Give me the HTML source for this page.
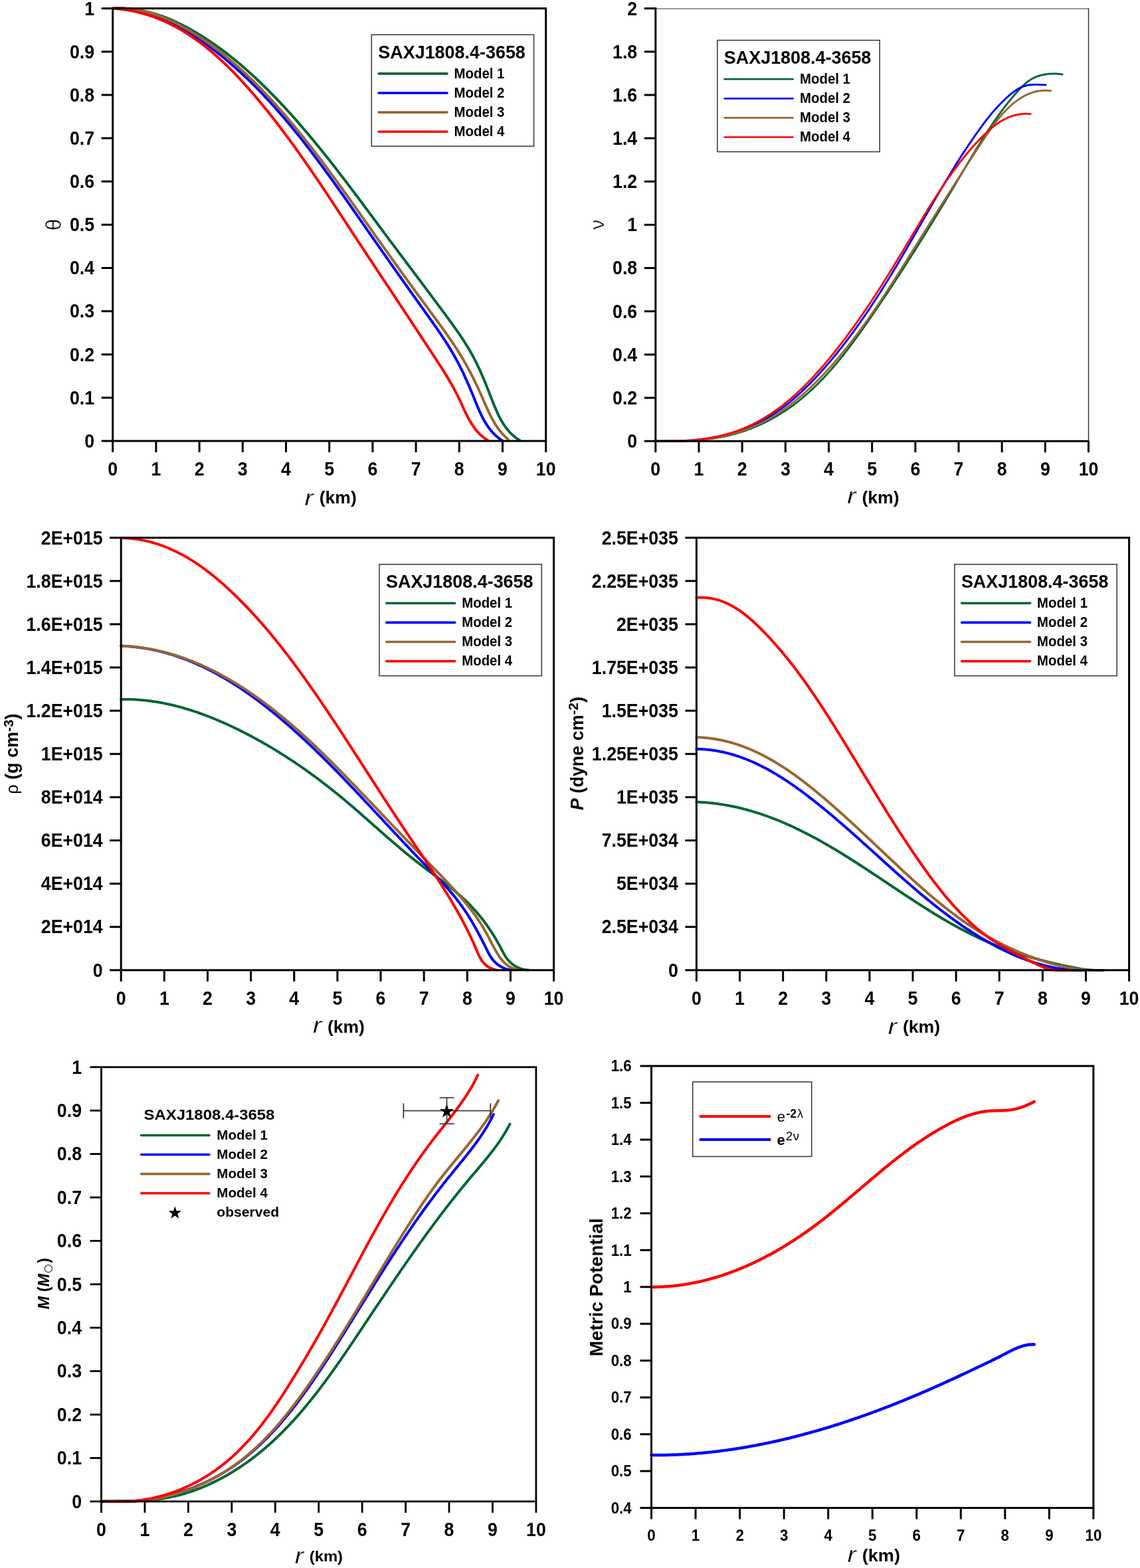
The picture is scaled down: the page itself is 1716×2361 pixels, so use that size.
<!DOCTYPE html><html><head><meta charset="utf-8"><title>SAXJ1808.4-3658 models</title><style>html,body{margin:0;padding:0;background:#fff;overflow:hidden}svg{display:block}</style></head><body>
<svg xmlns="http://www.w3.org/2000/svg" width="1716" height="2361" viewBox="0 0 1716 2361" font-family="Liberation Sans, Arial, Helvetica, sans-serif">
<rect width="1716" height="2361" fill="#fff"/>
<path d="M169.7,12.7 L173.4,12.6 L177.2,12.5 L180.9,12.5 L184.5,12.6 L188.2,12.7 L191.8,13.0 L195.5,13.3 L199.1,13.7 L202.6,14.1 L206.2,14.6 L209.7,15.2 L213.2,15.9 L216.7,16.6 L220.2,17.4 L223.7,18.2 L227.1,19.1 L230.5,20.1 L233.9,21.1 L237.3,22.1 L240.7,23.3 L244.0,24.4 L247.3,25.6 L250.7,26.9 L253.9,28.2 L257.2,29.6 L260.5,31.0 L263.7,32.5 L266.9,34.0 L270.1,35.5 L273.3,37.1 L276.5,38.7 L279.6,40.3 L282.8,42.0 L285.9,43.7 L289.0,45.5 L292.1,47.2 L295.1,49.0 L298.2,50.9 L301.2,52.7 L304.2,54.6 L307.2,56.5 L310.2,58.4 L313.2,60.4 L316.2,62.3 L319.1,64.3 L322.0,66.4 L324.9,68.4 L327.8,70.5 L330.7,72.6 L333.6,74.7 L336.4,76.8 L339.3,78.9 L342.1,81.1 L344.9,83.3 L347.7,85.5 L350.5,87.7 L353.3,90.0 L356.0,92.2 L358.8,94.5 L361.5,96.8 L364.2,99.1 L366.9,101.5 L369.6,103.8 L372.3,106.2 L374.9,108.6 L377.6,111.0 L380.2,113.4 L382.9,115.8 L385.5,118.3 L388.1,120.7 L390.7,123.2 L393.3,125.7 L395.8,128.2 L398.4,130.7 L401.0,133.2 L403.5,135.7 L406.0,138.3 L408.5,140.8 L411.0,143.4 L413.5,145.9 L416.0,148.5 L418.5,151.1 L421.0,153.7 L423.4,156.3 L425.9,158.9 L428.3,161.6 L430.7,164.2 L433.1,166.9 L435.6,169.5 L438.0,172.2 L440.3,174.8 L442.7,177.5 L445.1,180.2 L447.5,182.9 L449.8,185.6 L452.2,188.3 L454.5,191.0 L456.8,193.7 L459.2,196.5 L461.5,199.2 L463.8,201.9 L466.1,204.7 L468.4,207.4 L470.7,210.2 L473.0,212.9 L475.2,215.7 L477.5,218.5 L479.8,221.2 L482.0,224.0 L484.3,226.8 L486.5,229.6 L488.8,232.4 L491.0,235.2 L493.2,238.0 L495.4,240.8 L497.7,243.6 L499.9,246.4 L502.1,249.3 L504.3,252.1 L506.5,254.9 L508.6,257.7 L510.8,260.6 L513.0,263.4 L515.2,266.2 L517.4,269.1 L519.5,271.9 L521.7,274.8 L523.9,277.6 L526.0,280.5 L528.2,283.3 L530.3,286.2 L532.5,289.0 L534.6,291.9 L536.8,294.7 L538.9,297.6 L541.0,300.4 L543.2,303.3 L545.3,306.1 L547.4,309.0 L549.5,311.9 L551.7,314.7 L553.8,317.6 L555.9,320.4 L558.0,323.3 L560.2,326.1 L562.3,329.0 L564.4,331.8 L566.5,334.7 L568.6,337.5 L570.7,340.4 L572.8,343.2 L575.0,346.1 L577.1,348.9 L579.2,351.8 L581.3,354.6 L583.4,357.4 L585.5,360.3 L587.6,363.1 L589.7,365.9 L591.9,368.7 L594.0,371.6 L596.1,374.4 L598.2,377.2 L600.3,380.1 L602.4,382.9 L604.6,385.7 L606.7,388.5 L608.8,391.4 L610.9,394.2 L613.0,397.0 L615.1,399.8 L617.3,402.7 L619.4,405.5 L621.5,408.3 L623.6,411.2 L625.8,414.0 L627.9,416.8 L630.0,419.7 L632.2,422.5 L634.3,425.4 L636.4,428.2 L638.6,431.1 L640.7,433.9 L642.8,436.8 L645.0,439.7 L647.1,442.5 L649.3,445.4 L651.4,448.3 L653.6,451.2 L655.7,454.1 L657.9,457.0 L660.0,459.9 L662.2,462.8 L664.4,465.7 L666.5,468.6 L668.7,471.5 L670.9,474.4 L673.0,477.4 L675.2,480.3 L677.3,483.3 L679.5,486.2 L681.6,489.2 L683.7,492.2 L685.8,495.1 L687.9,498.1 L690.0,501.1 L692.1,504.1 L694.1,507.1 L696.1,510.2 L698.1,513.2 L700.0,516.2 L701.9,519.3 L703.8,522.4 L705.7,525.4 L707.5,528.5 L709.2,531.6 L711.0,534.7 L712.7,537.8 L714.3,540.9 L715.9,544.1 L717.5,547.2 L719.0,550.4 L720.5,553.5 L722.0,556.7 L723.4,559.9 L724.8,563.1 L726.2,566.3 L727.6,569.5 L729.0,572.7 L730.3,576.0 L731.6,579.2 L732.9,582.5 L734.2,585.8 L735.5,589.1 L736.8,592.4 L738.1,595.7 L739.4,599.0 L740.7,602.3 L742.0,605.7 L743.3,609.0 L744.7,612.3 L746.1,615.6 L747.5,618.9 L749.0,622.1 L750.5,625.4 L752.1,628.5 L753.8,631.7 L755.5,634.7 L757.4,637.8 L759.3,640.7 L761.3,643.6 L763.5,646.3 L765.7,649.0 L768.1,651.6 L770.6,654.1 L773.3,656.5 L776.1,658.8 L779.1,661.0 L782.2,663.0" fill="none" stroke="#006633" stroke-width="4" stroke-linecap="round" stroke-linejoin="round"/>
<path d="M169.7,12.7 L173.3,12.5 L176.9,12.5 L180.5,12.5 L184.1,12.6 L187.6,12.8 L191.1,13.1 L194.6,13.5 L198.1,13.9 L201.6,14.5 L205.0,15.1 L208.4,15.8 L211.8,16.5 L215.2,17.4 L218.6,18.3 L221.9,19.2 L225.2,20.3 L228.5,21.4 L231.8,22.5 L235.1,23.8 L238.3,25.0 L241.6,26.4 L244.8,27.7 L248.0,29.2 L251.1,30.6 L254.3,32.2 L257.4,33.7 L260.6,35.3 L263.7,37.0 L266.7,38.7 L269.8,40.4 L272.9,42.1 L275.9,43.9 L278.9,45.7 L281.9,47.6 L284.9,49.4 L287.9,51.3 L290.8,53.2 L293.7,55.1 L296.7,57.0 L299.6,59.0 L302.4,61.0 L305.3,63.0 L308.2,65.0 L311.0,67.0 L313.8,69.1 L316.6,71.2 L319.4,73.3 L322.2,75.4 L325.0,77.5 L327.7,79.7 L330.5,81.8 L333.2,84.0 L335.9,86.2 L338.6,88.4 L341.3,90.7 L343.9,92.9 L346.6,95.2 L349.2,97.5 L351.8,99.8 L354.4,102.1 L357.0,104.4 L359.6,106.7 L362.2,109.1 L364.8,111.5 L367.3,113.8 L369.8,116.2 L372.4,118.6 L374.9,121.1 L377.4,123.5 L379.9,126.0 L382.3,128.4 L384.8,130.9 L387.2,133.4 L389.7,135.9 L392.1,138.4 L394.5,140.9 L396.9,143.5 L399.3,146.0 L401.7,148.6 L404.1,151.1 L406.5,153.7 L408.8,156.3 L411.2,158.9 L413.5,161.5 L415.8,164.1 L418.1,166.7 L420.4,169.3 L422.7,172.0 L425.0,174.6 L427.3,177.3 L429.6,180.0 L431.8,182.6 L434.1,185.3 L436.3,188.0 L438.6,190.7 L440.8,193.4 L443.0,196.1 L445.2,198.9 L447.4,201.6 L449.6,204.3 L451.8,207.1 L454.0,209.8 L456.2,212.6 L458.3,215.3 L460.5,218.1 L462.6,220.9 L464.8,223.6 L466.9,226.4 L469.0,229.2 L471.2,232.0 L473.3,234.8 L475.4,237.6 L477.5,240.4 L479.6,243.2 L481.7,246.1 L483.8,248.9 L485.9,251.7 L488.0,254.5 L490.0,257.4 L492.1,260.2 L494.2,263.0 L496.2,265.9 L498.3,268.7 L500.3,271.6 L502.4,274.4 L504.4,277.3 L506.5,280.1 L508.5,283.0 L510.5,285.8 L512.5,288.7 L514.6,291.5 L516.6,294.4 L518.6,297.2 L520.6,300.1 L522.6,303.0 L524.6,305.8 L526.6,308.7 L528.6,311.6 L530.6,314.4 L532.6,317.3 L534.6,320.1 L536.6,323.0 L538.6,325.9 L540.6,328.7 L542.6,331.6 L544.6,334.4 L546.6,337.3 L548.6,340.2 L550.6,343.0 L552.5,345.9 L554.5,348.7 L556.5,351.5 L558.5,354.4 L560.5,357.2 L562.4,360.1 L564.4,362.9 L566.4,365.7 L568.4,368.6 L570.4,371.4 L572.4,374.2 L574.3,377.1 L576.3,379.9 L578.3,382.7 L580.3,385.5 L582.3,388.4 L584.3,391.2 L586.2,394.0 L588.2,396.9 L590.2,399.7 L592.2,402.5 L594.2,405.3 L596.2,408.2 L598.2,411.0 L600.2,413.8 L602.2,416.7 L604.2,419.5 L606.2,422.3 L608.2,425.2 L610.2,428.0 L612.3,430.8 L614.3,433.7 L616.3,436.5 L618.3,439.4 L620.3,442.2 L622.4,445.1 L624.4,447.9 L626.4,450.8 L628.5,453.7 L630.5,456.5 L632.6,459.4 L634.6,462.3 L636.7,465.2 L638.8,468.1 L640.8,470.9 L642.9,473.8 L645.0,476.7 L647.0,479.6 L649.1,482.5 L651.2,485.5 L653.2,488.4 L655.3,491.3 L657.3,494.2 L659.3,497.2 L661.4,500.1 L663.4,503.1 L665.3,506.0 L667.3,509.0 L669.3,512.0 L671.2,514.9 L673.1,517.9 L675.0,520.9 L676.8,523.9 L678.6,526.9 L680.4,529.9 L682.2,533.0 L683.9,536.0 L685.6,539.0 L687.3,542.1 L688.9,545.1 L690.5,548.2 L692.1,551.3 L693.6,554.3 L695.2,557.4 L696.7,560.5 L698.1,563.6 L699.6,566.8 L701.0,569.9 L702.4,573.0 L703.8,576.2 L705.2,579.3 L706.6,582.5 L707.9,585.7 L709.2,588.8 L710.6,592.0 L711.9,595.2 L713.2,598.4 L714.5,601.6 L715.8,604.9 L717.1,608.1 L718.4,611.3 L719.8,614.5 L721.2,617.7 L722.6,620.9 L724.0,624.0 L725.6,627.1 L727.1,630.2 L728.8,633.2 L730.5,636.1 L732.3,639.1 L734.2,641.9 L736.2,644.7 L738.3,647.4 L740.6,650.1 L742.9,652.6 L745.4,655.1 L748.0,657.5 L750.8,659.8 L753.7,661.9 L756.8,664.0" fill="none" stroke="#0000ff" stroke-width="4" stroke-linecap="round" stroke-linejoin="round"/>
<path d="M169.7,12.7 L173.4,12.5 L177.0,12.5 L180.6,12.5 L184.3,12.6 L187.8,12.8 L191.4,13.0 L194.9,13.3 L198.5,13.8 L202.0,14.2 L205.5,14.8 L208.9,15.4 L212.4,16.1 L215.8,16.8 L219.2,17.7 L222.6,18.5 L225.9,19.5 L229.3,20.5 L232.6,21.6 L235.9,22.7 L239.2,23.8 L242.4,25.1 L245.7,26.3 L248.9,27.7 L252.1,29.0 L255.3,30.5 L258.5,31.9 L261.6,33.4 L264.8,35.0 L267.9,36.6 L271.0,38.2 L274.1,39.9 L277.1,41.6 L280.2,43.3 L283.2,45.0 L286.2,46.8 L289.2,48.7 L292.2,50.5 L295.2,52.4 L298.1,54.3 L301.0,56.2 L304.0,58.1 L306.9,60.1 L309.7,62.1 L312.6,64.1 L315.5,66.1 L318.3,68.2 L321.1,70.2 L323.9,72.3 L326.7,74.4 L329.5,76.6 L332.3,78.7 L335.0,80.9 L337.7,83.1 L340.4,85.3 L343.2,87.5 L345.8,89.8 L348.5,92.1 L351.2,94.4 L353.8,96.7 L356.5,99.0 L359.1,101.3 L361.7,103.7 L364.3,106.0 L366.9,108.4 L369.5,110.8 L372.0,113.2 L374.6,115.6 L377.1,118.1 L379.6,120.5 L382.1,123.0 L384.6,125.5 L387.1,128.0 L389.6,130.5 L392.0,133.0 L394.5,135.5 L396.9,138.1 L399.4,140.6 L401.8,143.2 L404.2,145.7 L406.6,148.3 L409.0,150.9 L411.4,153.5 L413.7,156.1 L416.1,158.7 L418.4,161.4 L420.8,164.0 L423.1,166.6 L425.4,169.3 L427.7,171.9 L430.0,174.6 L432.3,177.3 L434.6,180.0 L436.9,182.7 L439.1,185.3 L441.4,188.0 L443.6,190.8 L445.9,193.5 L448.1,196.2 L450.3,198.9 L452.5,201.7 L454.7,204.4 L457.0,207.1 L459.1,209.9 L461.3,212.7 L463.5,215.4 L465.7,218.2 L467.9,221.0 L470.0,223.7 L472.2,226.5 L474.3,229.3 L476.5,232.1 L478.6,234.9 L480.7,237.7 L482.8,240.5 L485.0,243.3 L487.1,246.1 L489.2,249.0 L491.3,251.8 L493.4,254.6 L495.5,257.4 L497.6,260.3 L499.6,263.1 L501.7,265.9 L503.8,268.8 L505.9,271.6 L507.9,274.4 L510.0,277.3 L512.0,280.1 L514.1,283.0 L516.2,285.8 L518.2,288.7 L520.2,291.5 L522.3,294.4 L524.3,297.2 L526.4,300.1 L528.4,302.9 L530.4,305.8 L532.5,308.7 L534.5,311.5 L536.5,314.4 L538.5,317.2 L540.6,320.1 L542.6,322.9 L544.6,325.8 L546.6,328.6 L548.6,331.5 L550.6,334.3 L552.7,337.2 L554.7,340.0 L556.7,342.9 L558.7,345.7 L560.7,348.6 L562.7,351.4 L564.7,354.3 L566.7,357.1 L568.7,359.9 L570.8,362.8 L572.8,365.6 L574.8,368.4 L576.8,371.3 L578.8,374.1 L580.8,376.9 L582.8,379.7 L584.9,382.6 L586.9,385.4 L588.9,388.2 L590.9,391.0 L593.0,393.9 L595.0,396.7 L597.0,399.5 L599.0,402.3 L601.1,405.2 L603.1,408.0 L605.1,410.8 L607.2,413.6 L609.2,416.5 L611.3,419.3 L613.3,422.1 L615.4,425.0 L617.4,427.8 L619.5,430.6 L621.5,433.5 L623.6,436.3 L625.7,439.1 L627.7,442.0 L629.8,444.8 L631.9,447.7 L634.0,450.5 L636.1,453.4 L638.2,456.2 L640.3,459.1 L642.4,461.9 L644.5,464.8 L646.6,467.7 L648.7,470.6 L650.8,473.4 L652.9,476.3 L655.0,479.2 L657.2,482.1 L659.3,485.0 L661.4,487.9 L663.5,490.8 L665.6,493.7 L667.7,496.6 L669.8,499.5 L671.8,502.4 L673.9,505.3 L675.9,508.3 L678.0,511.2 L680.0,514.1 L682.0,517.1 L683.9,520.0 L685.9,523.0 L687.8,526.0 L689.7,528.9 L691.5,531.9 L693.4,534.9 L695.2,537.9 L697.0,540.9 L698.7,543.9 L700.4,546.9 L702.1,549.9 L703.8,552.9 L705.4,556.0 L707.1,559.0 L708.7,562.1 L710.2,565.1 L711.8,568.2 L713.3,571.3 L714.8,574.4 L716.3,577.5 L717.8,580.6 L719.3,583.7 L720.7,586.8 L722.2,590.0 L723.6,593.1 L725.0,596.3 L726.4,599.5 L727.8,602.7 L729.2,605.9 L730.6,609.1 L732.0,612.3 L733.4,615.5 L734.8,618.6 L736.3,621.8 L737.9,624.9 L739.4,628.0 L741.1,631.1 L742.8,634.1 L744.5,637.1 L746.4,640.1 L748.3,643.0 L750.3,645.8 L752.4,648.6 L754.7,651.3 L757.0,654.0 L759.5,656.6 L762.1,659.1 L764.8,661.5" fill="none" stroke="#996633" stroke-width="4" stroke-linecap="round" stroke-linejoin="round"/>
<path d="M169.7,12.7 L173.3,12.9 L176.8,13.2 L180.3,13.6 L183.9,14.0 L187.3,14.5 L190.8,15.0 L194.2,15.6 L197.6,16.2 L201.0,16.9 L204.4,17.6 L207.7,18.4 L211.0,19.2 L214.3,20.1 L217.6,21.0 L220.9,22.0 L224.1,23.0 L227.3,24.1 L230.5,25.2 L233.7,26.3 L236.8,27.6 L239.9,28.8 L243.0,30.1 L246.1,31.4 L249.2,32.8 L252.2,34.2 L255.3,35.7 L258.3,37.2 L261.2,38.7 L264.2,40.3 L267.2,41.9 L270.1,43.6 L273.0,45.3 L275.9,47.0 L278.8,48.8 L281.6,50.6 L284.4,52.4 L287.3,54.2 L290.1,56.1 L292.8,58.1 L295.6,60.0 L298.4,62.0 L301.1,64.0 L303.8,66.1 L306.5,68.2 L309.2,70.3 L311.8,72.4 L314.5,74.6 L317.1,76.8 L319.7,79.0 L322.3,81.2 L324.9,83.5 L327.5,85.7 L330.0,88.1 L332.6,90.4 L335.1,92.7 L337.6,95.1 L340.1,97.5 L342.6,99.9 L345.0,102.3 L347.5,104.8 L349.9,107.2 L352.3,109.7 L354.7,112.2 L357.1,114.7 L359.5,117.2 L361.9,119.8 L364.2,122.3 L366.6,124.9 L368.9,127.5 L371.2,130.1 L373.5,132.7 L375.8,135.3 L378.1,137.9 L380.4,140.5 L382.6,143.1 L384.9,145.8 L387.1,148.4 L389.3,151.1 L391.5,153.7 L393.7,156.4 L395.9,159.1 L398.1,161.7 L400.3,164.4 L402.5,167.1 L404.6,169.8 L406.7,172.5 L408.9,175.2 L411.0,177.9 L413.1,180.6 L415.2,183.3 L417.3,186.0 L419.4,188.7 L421.5,191.5 L423.5,194.2 L425.6,196.9 L427.7,199.7 L429.7,202.4 L431.7,205.1 L433.8,207.9 L435.8,210.6 L437.8,213.4 L439.8,216.2 L441.8,218.9 L443.8,221.7 L445.8,224.5 L447.8,227.2 L449.8,230.0 L451.7,232.8 L453.7,235.6 L455.7,238.4 L457.6,241.2 L459.6,244.0 L461.5,246.8 L463.5,249.6 L465.4,252.4 L467.3,255.2 L469.3,258.0 L471.2,260.8 L473.1,263.6 L475.0,266.4 L476.9,269.2 L478.8,272.0 L480.7,274.9 L482.6,277.7 L484.5,280.5 L486.4,283.4 L488.3,286.2 L490.2,289.0 L492.1,291.8 L494.0,294.7 L495.8,297.5 L497.7,300.4 L499.6,303.2 L501.5,306.0 L503.3,308.9 L505.2,311.7 L507.1,314.6 L509.0,317.4 L510.8,320.3 L512.7,323.1 L514.6,326.0 L516.4,328.8 L518.3,331.7 L520.2,334.5 L522.1,337.4 L523.9,340.2 L525.8,343.1 L527.7,346.0 L529.6,348.8 L531.4,351.7 L533.3,354.5 L535.2,357.4 L537.1,360.2 L538.9,363.1 L540.8,365.9 L542.7,368.8 L544.6,371.7 L546.5,374.5 L548.4,377.4 L550.2,380.2 L552.1,383.1 L554.0,386.0 L555.9,388.8 L557.8,391.7 L559.7,394.5 L561.6,397.4 L563.5,400.3 L565.4,403.1 L567.2,406.0 L569.1,408.8 L571.0,411.7 L572.9,414.6 L574.8,417.4 L576.7,420.3 L578.6,423.1 L580.5,426.0 L582.4,428.9 L584.3,431.7 L586.2,434.6 L588.1,437.4 L590.0,440.3 L591.9,443.2 L593.8,446.0 L595.6,448.9 L597.5,451.8 L599.4,454.6 L601.3,457.5 L603.2,460.3 L605.1,463.2 L607.0,466.1 L608.9,468.9 L610.8,471.8 L612.7,474.6 L614.6,477.5 L616.5,480.4 L618.4,483.2 L620.2,486.1 L622.1,489.0 L624.0,491.8 L625.9,494.7 L627.8,497.5 L629.7,500.4 L631.6,503.3 L633.4,506.1 L635.3,509.0 L637.2,511.8 L639.1,514.7 L641.0,517.6 L642.9,520.4 L644.7,523.3 L646.6,526.1 L648.5,529.0 L650.4,531.8 L652.2,534.7 L654.1,537.6 L656.0,540.4 L657.8,543.3 L659.7,546.1 L661.5,549.0 L663.4,551.9 L665.2,554.8 L667.0,557.6 L668.8,560.5 L670.6,563.4 L672.4,566.4 L674.2,569.3 L675.9,572.2 L677.6,575.2 L679.3,578.1 L681.0,581.1 L682.7,584.1 L684.3,587.1 L685.9,590.1 L687.5,593.2 L689.0,596.2 L690.5,599.3 L692.0,602.4 L693.5,605.5 L694.9,608.6 L696.3,611.8 L697.8,614.9 L699.2,618.0 L700.7,621.1 L702.2,624.2 L703.8,627.2 L705.3,630.2 L707.0,633.2 L708.7,636.1 L710.5,638.9 L712.3,641.7 L714.3,644.5 L716.3,647.1 L718.5,649.7 L720.7,652.1 L723.1,654.5 L725.6,656.8 L728.3,659.0 L731.1,661.1 L734.1,663.0" fill="none" stroke="#ff0000" stroke-width="4" stroke-linecap="round" stroke-linejoin="round"/>
<rect x="169.7" y="12.7" width="652.00" height="651.30" fill="none" stroke="#000" stroke-width="3"/>
<line x1="152.7" y1="664.00" x2="169.7" y2="664.00" stroke="#000" stroke-width="3"/>
<text transform="translate(142.10,673.80) scale(0.915,1)" font-size="29.2" font-weight="bold" text-anchor="end" >0</text>
<line x1="152.7" y1="598.87" x2="169.7" y2="598.87" stroke="#000" stroke-width="3"/>
<text transform="translate(142.10,608.67) scale(0.915,1)" font-size="29.2" font-weight="bold" text-anchor="end" >0.1</text>
<line x1="152.7" y1="533.74" x2="169.7" y2="533.74" stroke="#000" stroke-width="3"/>
<text transform="translate(142.10,543.54) scale(0.915,1)" font-size="29.2" font-weight="bold" text-anchor="end" >0.2</text>
<line x1="152.7" y1="468.61" x2="169.7" y2="468.61" stroke="#000" stroke-width="3"/>
<text transform="translate(142.10,478.41) scale(0.915,1)" font-size="29.2" font-weight="bold" text-anchor="end" >0.3</text>
<line x1="152.7" y1="403.48" x2="169.7" y2="403.48" stroke="#000" stroke-width="3"/>
<text transform="translate(142.10,413.28) scale(0.915,1)" font-size="29.2" font-weight="bold" text-anchor="end" >0.4</text>
<line x1="152.7" y1="338.35" x2="169.7" y2="338.35" stroke="#000" stroke-width="3"/>
<text transform="translate(142.10,348.15) scale(0.915,1)" font-size="29.2" font-weight="bold" text-anchor="end" >0.5</text>
<line x1="152.7" y1="273.22" x2="169.7" y2="273.22" stroke="#000" stroke-width="3"/>
<text transform="translate(142.10,283.02) scale(0.915,1)" font-size="29.2" font-weight="bold" text-anchor="end" >0.6</text>
<line x1="152.7" y1="208.09" x2="169.7" y2="208.09" stroke="#000" stroke-width="3"/>
<text transform="translate(142.10,217.89) scale(0.915,1)" font-size="29.2" font-weight="bold" text-anchor="end" >0.7</text>
<line x1="152.7" y1="142.96" x2="169.7" y2="142.96" stroke="#000" stroke-width="3"/>
<text transform="translate(142.10,152.76) scale(0.915,1)" font-size="29.2" font-weight="bold" text-anchor="end" >0.8</text>
<line x1="152.7" y1="77.83" x2="169.7" y2="77.83" stroke="#000" stroke-width="3"/>
<text transform="translate(142.10,87.63) scale(0.915,1)" font-size="29.2" font-weight="bold" text-anchor="end" >0.9</text>
<line x1="152.7" y1="12.70" x2="169.7" y2="12.70" stroke="#000" stroke-width="3"/>
<text transform="translate(142.10,22.50) scale(0.915,1)" font-size="29.2" font-weight="bold" text-anchor="end" >1</text>
<line x1="169.70" y1="664.0" x2="169.70" y2="681.0" stroke="#000" stroke-width="3"/>
<text transform="translate(169.70,716.00) scale(0.915,1)" font-size="29.2" font-weight="bold" text-anchor="middle" >0</text>
<line x1="234.90" y1="664.0" x2="234.90" y2="681.0" stroke="#000" stroke-width="3"/>
<text transform="translate(234.90,716.00) scale(0.915,1)" font-size="29.2" font-weight="bold" text-anchor="middle" >1</text>
<line x1="300.10" y1="664.0" x2="300.10" y2="681.0" stroke="#000" stroke-width="3"/>
<text transform="translate(300.10,716.00) scale(0.915,1)" font-size="29.2" font-weight="bold" text-anchor="middle" >2</text>
<line x1="365.30" y1="664.0" x2="365.30" y2="681.0" stroke="#000" stroke-width="3"/>
<text transform="translate(365.30,716.00) scale(0.915,1)" font-size="29.2" font-weight="bold" text-anchor="middle" >3</text>
<line x1="430.50" y1="664.0" x2="430.50" y2="681.0" stroke="#000" stroke-width="3"/>
<text transform="translate(430.50,716.00) scale(0.915,1)" font-size="29.2" font-weight="bold" text-anchor="middle" >4</text>
<line x1="495.70" y1="664.0" x2="495.70" y2="681.0" stroke="#000" stroke-width="3"/>
<text transform="translate(495.70,716.00) scale(0.915,1)" font-size="29.2" font-weight="bold" text-anchor="middle" >5</text>
<line x1="560.90" y1="664.0" x2="560.90" y2="681.0" stroke="#000" stroke-width="3"/>
<text transform="translate(560.90,716.00) scale(0.915,1)" font-size="29.2" font-weight="bold" text-anchor="middle" >6</text>
<line x1="626.10" y1="664.0" x2="626.10" y2="681.0" stroke="#000" stroke-width="3"/>
<text transform="translate(626.10,716.00) scale(0.915,1)" font-size="29.2" font-weight="bold" text-anchor="middle" >7</text>
<line x1="691.30" y1="664.0" x2="691.30" y2="681.0" stroke="#000" stroke-width="3"/>
<text transform="translate(691.30,716.00) scale(0.915,1)" font-size="29.2" font-weight="bold" text-anchor="middle" >8</text>
<line x1="756.50" y1="664.0" x2="756.50" y2="681.0" stroke="#000" stroke-width="3"/>
<text transform="translate(756.50,716.00) scale(0.915,1)" font-size="29.2" font-weight="bold" text-anchor="middle" >9</text>
<line x1="821.70" y1="664.0" x2="821.70" y2="681.0" stroke="#000" stroke-width="3"/>
<text transform="translate(821.70,716.00) scale(0.915,1)" font-size="29.2" font-weight="bold" text-anchor="middle" >10</text>
<rect x="559.3" y="52.3" width="244.3" height="167.9" fill="#fff" stroke="#333" stroke-width="1.5"/>
<text transform="translate(569.30,88.00) scale(0.952,1)" font-size="28.3" font-weight="bold" text-anchor="start" >SAXJ1808.4-3658</text>
<line x1="570.0999999999999" y1="110.90" x2="673.0" y2="110.90" stroke="#006633" stroke-width="3.6" stroke-linecap="round"/>
<text transform="translate(683.50,117.50) scale(0.927,1)" font-size="22" font-weight="bold" text-anchor="start" >Model 1</text>
<line x1="570.0999999999999" y1="140.00" x2="673.0" y2="140.00" stroke="#0000ff" stroke-width="3.6" stroke-linecap="round"/>
<text transform="translate(683.50,146.60) scale(0.927,1)" font-size="22" font-weight="bold" text-anchor="start" >Model 2</text>
<line x1="570.0999999999999" y1="169.10" x2="673.0" y2="169.10" stroke="#996633" stroke-width="3.6" stroke-linecap="round"/>
<text transform="translate(683.50,175.70) scale(0.927,1)" font-size="22" font-weight="bold" text-anchor="start" >Model 3</text>
<line x1="570.0999999999999" y1="198.20" x2="673.0" y2="198.20" stroke="#ff0000" stroke-width="3.6" stroke-linecap="round"/>
<text transform="translate(683.50,204.80) scale(0.927,1)" font-size="22" font-weight="bold" text-anchor="start" >Model 4</text>
<text transform="translate(91.50,338.40) rotate(-90) scale(1.0,1.1)" font-size="31" font-weight="normal" text-anchor="middle" stroke="#fff" stroke-width="0.45">θ</text>
<text transform="translate(458.40,760.60) scale(1.2,1)" font-size="33" font-style="italic" font-weight="normal" stroke="#fff" stroke-width="0.3">r</text>
<text transform="translate(480.80,757.60) scale(1.0045,1)" font-size="26.4" font-weight="bold" text-anchor="start" >(km)</text>
<path d="M986.8,664.2 L990.1,664.2 L993.5,664.1 L996.8,664.1 L1000.2,664.0 L1003.6,664.0 L1006.9,664.0 L1010.3,663.9 L1013.7,663.9 L1017.1,663.8 L1020.5,663.8 L1023.9,663.7 L1027.3,663.6 L1030.7,663.5 L1034.1,663.4 L1037.5,663.3 L1040.9,663.1 L1044.3,662.9 L1047.7,662.7 L1051.1,662.5 L1054.4,662.2 L1057.8,661.9 L1061.2,661.6 L1064.6,661.3 L1068.0,660.9 L1071.4,660.5 L1074.7,660.0 L1078.1,659.5 L1081.4,658.9 L1084.8,658.4 L1088.1,657.7 L1091.4,657.0 L1094.8,656.3 L1098.1,655.5 L1101.4,654.7 L1104.7,653.8 L1107.9,652.9 L1111.2,651.9 L1114.5,650.9 L1117.7,649.9 L1120.9,648.8 L1124.1,647.7 L1127.3,646.5 L1130.5,645.3 L1133.7,644.0 L1136.8,642.7 L1139.9,641.4 L1143.1,640.0 L1146.2,638.6 L1149.2,637.1 L1152.3,635.6 L1155.3,634.1 L1158.3,632.5 L1161.3,630.9 L1164.3,629.3 L1167.3,627.6 L1170.2,625.9 L1173.1,624.1 L1176.0,622.4 L1178.8,620.5 L1181.7,618.7 L1184.5,616.8 L1187.2,614.9 L1190.0,613.0 L1192.7,611.0 L1195.4,609.0 L1198.1,607.0 L1200.8,604.9 L1203.4,602.8 L1206.0,600.7 L1208.6,598.5 L1211.1,596.4 L1213.7,594.2 L1216.2,592.0 L1218.7,589.7 L1221.2,587.4 L1223.6,585.1 L1226.1,582.8 L1228.5,580.5 L1230.9,578.1 L1233.3,575.7 L1235.6,573.3 L1238.0,570.9 L1240.3,568.4 L1242.6,565.9 L1244.9,563.5 L1247.2,560.9 L1249.4,558.4 L1251.7,555.9 L1253.9,553.3 L1256.1,550.7 L1258.3,548.1 L1260.5,545.5 L1262.7,542.9 L1264.8,540.3 L1267.0,537.6 L1269.1,535.0 L1271.2,532.3 L1273.3,529.6 L1275.4,526.9 L1277.5,524.2 L1279.5,521.5 L1281.6,518.7 L1283.6,516.0 L1285.7,513.2 L1287.7,510.5 L1289.7,507.7 L1291.7,505.0 L1293.7,502.2 L1295.7,499.4 L1297.7,496.6 L1299.7,493.8 L1301.6,491.0 L1303.6,488.2 L1305.5,485.4 L1307.5,482.6 L1309.4,479.8 L1311.4,477.0 L1313.3,474.2 L1315.2,471.4 L1317.1,468.5 L1319.1,465.7 L1321.0,462.9 L1322.9,460.1 L1324.8,457.3 L1326.7,454.5 L1328.6,451.7 L1330.5,448.8 L1332.4,446.0 L1334.2,443.2 L1336.1,440.4 L1338.0,437.6 L1339.9,434.8 L1341.7,431.9 L1343.6,429.1 L1345.4,426.3 L1347.3,423.5 L1349.1,420.6 L1351.0,417.8 L1352.8,415.0 L1354.7,412.1 L1356.5,409.3 L1358.3,406.5 L1360.2,403.6 L1362.0,400.8 L1363.8,398.0 L1365.6,395.1 L1367.4,392.3 L1369.3,389.5 L1371.1,386.6 L1372.9,383.8 L1374.7,380.9 L1376.5,378.1 L1378.3,375.2 L1380.1,372.4 L1381.9,369.5 L1383.6,366.7 L1385.4,363.8 L1387.2,361.0 L1389.0,358.1 L1390.8,355.3 L1392.6,352.4 L1394.3,349.5 L1396.1,346.7 L1397.9,343.8 L1399.6,340.9 L1401.4,338.1 L1403.2,335.2 L1404.9,332.3 L1406.7,329.4 L1408.4,326.6 L1410.2,323.7 L1412.0,320.8 L1413.7,317.9 L1415.5,315.0 L1417.2,312.1 L1419.0,309.3 L1420.7,306.4 L1422.5,303.5 L1424.2,300.6 L1425.9,297.7 L1427.7,294.8 L1429.4,291.9 L1431.2,289.0 L1432.9,286.0 L1434.6,283.1 L1436.4,280.2 L1438.1,277.3 L1439.8,274.4 L1441.6,271.5 L1443.3,268.5 L1445.0,265.6 L1446.8,262.7 L1448.5,259.7 L1450.2,256.8 L1452.0,253.9 L1453.7,250.9 L1455.5,248.0 L1457.2,245.1 L1458.9,242.1 L1460.7,239.2 L1462.4,236.3 L1464.2,233.4 L1466.0,230.4 L1467.7,227.5 L1469.5,224.6 L1471.3,221.7 L1473.1,218.8 L1474.9,215.9 L1476.7,213.0 L1478.5,210.1 L1480.3,207.3 L1482.2,204.4 L1484.0,201.5 L1485.9,198.7 L1487.7,195.8 L1489.6,193.0 L1491.5,190.2 L1493.4,187.4 L1495.3,184.6 L1497.2,181.8 L1499.2,179.0 L1501.1,176.3 L1503.1,173.5 L1505.1,170.8 L1507.1,168.1 L1509.1,165.4 L1511.1,162.7 L1513.2,160.0 L1515.2,157.4 L1517.3,154.7 L1519.4,152.1 L1521.5,149.5 L1523.7,146.9 L1525.8,144.3 L1528.0,141.8 L1530.2,139.3 L1532.5,136.8 L1534.7,134.3 L1537.0,131.9 L1539.4,129.5 L1541.8,127.3 L1544.3,125.1 L1546.9,123.0 L1549.6,121.1 L1552.4,119.3 L1555.3,117.7 L1558.3,116.2 L1561.5,115.0 L1564.8,113.9 L1568.2,113.0 L1571.7,112.3 L1575.2,111.7 L1578.7,111.3 L1582.2,111.1 L1585.8,111.0 L1589.2,111.0 L1592.6,111.2 L1595.9,111.5 L1599.1,112.0" fill="none" stroke="#006633" stroke-width="2.9" stroke-linecap="round" stroke-linejoin="round"/>
<path d="M986.8,664.2 L990.0,664.2 L993.1,664.2 L996.3,664.2 L999.5,664.2 L1002.7,664.2 L1005.9,664.2 L1009.2,664.2 L1012.4,664.2 L1015.7,664.2 L1018.9,664.1 L1022.2,664.0 L1025.5,663.9 L1028.8,663.7 L1032.1,663.5 L1035.3,663.3 L1038.6,663.1 L1041.9,662.9 L1045.2,662.6 L1048.5,662.3 L1051.8,662.0 L1055.1,661.6 L1058.4,661.2 L1061.7,660.8 L1065.0,660.4 L1068.3,659.9 L1071.6,659.4 L1074.8,658.8 L1078.1,658.2 L1081.3,657.6 L1084.6,657.0 L1087.8,656.3 L1091.0,655.5 L1094.2,654.8 L1097.4,654.0 L1100.5,653.1 L1103.7,652.2 L1106.8,651.3 L1109.9,650.3 L1113.0,649.2 L1116.1,648.2 L1119.1,647.0 L1122.1,645.9 L1125.1,644.7 L1128.1,643.4 L1131.1,642.1 L1134.0,640.7 L1136.9,639.3 L1139.8,637.9 L1142.7,636.4 L1145.5,634.9 L1148.4,633.4 L1151.2,631.8 L1154.0,630.1 L1156.7,628.5 L1159.5,626.8 L1162.2,625.0 L1164.9,623.2 L1167.6,621.4 L1170.3,619.6 L1172.9,617.7 L1175.6,615.8 L1178.2,613.8 L1180.8,611.9 L1183.4,609.9 L1185.9,607.8 L1188.5,605.8 L1191.0,603.7 L1193.5,601.6 L1196.0,599.4 L1198.4,597.3 L1200.9,595.1 L1203.3,592.9 L1205.7,590.7 L1208.1,588.4 L1210.5,586.1 L1212.9,583.8 L1215.2,581.5 L1217.6,579.2 L1219.9,576.9 L1222.2,574.5 L1224.5,572.1 L1226.8,569.7 L1229.0,567.3 L1231.3,564.9 L1233.5,562.5 L1235.7,560.0 L1237.9,557.5 L1240.1,555.1 L1242.3,552.6 L1244.4,550.1 L1246.6,547.6 L1248.7,545.1 L1250.8,542.6 L1252.9,540.1 L1255.0,537.6 L1257.1,535.0 L1259.2,532.5 L1261.2,530.0 L1263.3,527.4 L1265.3,524.9 L1267.3,522.3 L1269.3,519.7 L1271.3,517.2 L1273.3,514.6 L1275.3,512.0 L1277.2,509.4 L1279.2,506.8 L1281.1,504.2 L1283.1,501.6 L1285.0,499.0 L1286.9,496.3 L1288.8,493.7 L1290.7,491.1 L1292.6,488.4 L1294.5,485.8 L1296.3,483.1 L1298.2,480.5 L1300.0,477.8 L1301.9,475.1 L1303.7,472.5 L1305.5,469.8 L1307.3,467.1 L1309.1,464.4 L1310.9,461.7 L1312.7,459.0 L1314.5,456.3 L1316.3,453.6 L1318.0,450.9 L1319.8,448.2 L1321.6,445.4 L1323.3,442.7 L1325.1,440.0 L1326.8,437.2 L1328.5,434.5 L1330.2,431.8 L1332.0,429.0 L1333.7,426.3 L1335.4,423.5 L1337.1,420.7 L1338.8,418.0 L1340.5,415.2 L1342.2,412.4 L1343.9,409.6 L1345.6,406.8 L1347.2,404.1 L1348.9,401.3 L1350.6,398.5 L1352.2,395.7 L1353.9,392.9 L1355.6,390.1 L1357.2,387.2 L1358.9,384.4 L1360.5,381.6 L1362.2,378.8 L1363.9,376.0 L1365.5,373.1 L1367.1,370.3 L1368.8,367.5 L1370.4,364.6 L1372.1,361.8 L1373.7,359.0 L1375.4,356.1 L1377.0,353.3 L1378.6,350.4 L1380.3,347.6 L1381.9,344.7 L1383.6,341.8 L1385.2,339.0 L1386.8,336.1 L1388.5,333.3 L1390.1,330.4 L1391.8,327.5 L1393.4,324.7 L1395.1,321.8 L1396.7,318.9 L1398.4,316.1 L1400.0,313.2 L1401.7,310.3 L1403.3,307.5 L1405.0,304.6 L1406.6,301.8 L1408.3,298.9 L1409.9,296.0 L1411.6,293.2 L1413.3,290.3 L1414.9,287.5 L1416.6,284.7 L1418.3,281.8 L1420.0,279.0 L1421.7,276.1 L1423.3,273.3 L1425.0,270.5 L1426.7,267.7 L1428.4,264.9 L1430.1,262.1 L1431.9,259.3 L1433.6,256.5 L1435.3,253.7 L1437.0,250.9 L1438.7,248.1 L1440.5,245.3 L1442.2,242.6 L1444.0,239.8 L1445.7,237.1 L1447.5,234.3 L1449.2,231.6 L1451.0,228.9 L1452.8,226.2 L1454.6,223.5 L1456.4,220.8 L1458.1,218.1 L1460.0,215.4 L1461.8,212.8 L1463.6,210.1 L1465.4,207.5 L1467.2,204.8 L1469.1,202.2 L1470.9,199.6 L1472.8,197.0 L1474.7,194.4 L1476.5,191.8 L1478.4,189.3 L1480.3,186.7 L1482.2,184.2 L1484.1,181.7 L1486.1,179.2 L1488.1,176.7 L1490.1,174.2 L1492.1,171.7 L1494.1,169.3 L1496.2,166.9 L1498.3,164.4 L1500.5,162.0 L1502.7,159.6 L1504.9,157.3 L1507.2,154.9 L1509.6,152.6 L1511.9,150.3 L1514.4,148.0 L1516.9,145.7 L1519.4,143.4 L1522.0,141.2 L1524.7,139.2 L1527.4,137.2 L1530.2,135.3 L1533.0,133.6 L1535.9,132.1 L1538.9,130.7 L1541.8,129.6 L1544.9,128.8 L1548.0,128.1 L1551.1,127.7 L1554.3,127.5 L1557.6,127.4 L1560.8,127.4 L1564.2,127.5 L1567.5,127.6 L1570.9,127.8 L1574.3,127.9" fill="none" stroke="#0000ff" stroke-width="2.9" stroke-linecap="round" stroke-linejoin="round"/>
<path d="M986.8,664.2 L990.0,664.2 L993.2,664.2 L996.5,664.2 L999.7,664.2 L1002.9,664.2 L1006.1,664.2 L1009.4,664.2 L1012.6,664.2 L1015.8,664.2 L1019.0,664.1 L1022.3,664.1 L1025.5,664.0 L1028.7,663.9 L1032.0,663.8 L1035.2,663.6 L1038.5,663.4 L1041.7,663.2 L1045.0,663.0 L1048.3,662.7 L1051.5,662.5 L1054.8,662.1 L1058.1,661.8 L1061.3,661.4 L1064.6,661.0 L1067.9,660.5 L1071.2,660.1 L1074.4,659.5 L1077.7,659.0 L1081.0,658.4 L1084.2,657.8 L1087.5,657.1 L1090.7,656.4 L1093.9,655.7 L1097.1,654.9 L1100.3,654.1 L1103.5,653.2 L1106.7,652.3 L1109.8,651.4 L1113.0,650.4 L1116.1,649.4 L1119.2,648.3 L1122.2,647.2 L1125.3,646.0 L1128.3,644.9 L1131.3,643.6 L1134.3,642.3 L1137.2,641.0 L1140.2,639.7 L1143.1,638.3 L1146.0,636.9 L1148.8,635.4 L1151.7,633.9 L1154.5,632.4 L1157.3,630.8 L1160.1,629.2 L1162.9,627.5 L1165.7,625.9 L1168.4,624.1 L1171.1,622.4 L1173.8,620.6 L1176.5,618.8 L1179.1,617.0 L1181.8,615.1 L1184.4,613.3 L1187.0,611.3 L1189.6,609.4 L1192.1,607.4 L1194.7,605.4 L1197.2,603.4 L1199.7,601.4 L1202.2,599.3 L1204.7,597.2 L1207.2,595.1 L1209.6,592.9 L1212.0,590.8 L1214.4,588.6 L1216.8,586.4 L1219.2,584.1 L1221.6,581.9 L1223.9,579.6 L1226.3,577.4 L1228.6,575.1 L1230.9,572.7 L1233.2,570.4 L1235.5,568.1 L1237.7,565.7 L1240.0,563.3 L1242.2,561.0 L1244.4,558.6 L1246.6,556.1 L1248.8,553.7 L1251.0,551.3 L1253.2,548.8 L1255.3,546.4 L1257.5,543.9 L1259.6,541.4 L1261.7,539.0 L1263.8,536.5 L1265.9,533.9 L1268.0,531.4 L1270.1,528.9 L1272.1,526.4 L1274.2,523.8 L1276.2,521.3 L1278.2,518.7 L1280.3,516.1 L1282.3,513.6 L1284.3,511.0 L1286.2,508.4 L1288.2,505.8 L1290.2,503.2 L1292.1,500.5 L1294.1,497.9 L1296.0,495.3 L1297.9,492.6 L1299.9,490.0 L1301.8,487.4 L1303.7,484.7 L1305.6,482.0 L1307.5,479.4 L1309.3,476.7 L1311.2,474.0 L1313.1,471.3 L1314.9,468.6 L1316.8,465.9 L1318.6,463.2 L1320.4,460.5 L1322.3,457.8 L1324.1,455.1 L1325.9,452.4 L1327.7,449.7 L1329.5,446.9 L1331.3,444.2 L1333.1,441.5 L1334.9,438.7 L1336.7,436.0 L1338.5,433.3 L1340.2,430.5 L1342.0,427.8 L1343.8,425.0 L1345.5,422.3 L1347.3,419.5 L1349.0,416.8 L1350.8,414.0 L1352.5,411.3 L1354.3,408.5 L1356.0,405.8 L1357.8,403.0 L1359.5,400.3 L1361.2,397.5 L1363.0,394.8 L1364.7,392.0 L1366.4,389.2 L1368.1,386.5 L1369.8,383.7 L1371.6,381.0 L1373.3,378.2 L1375.0,375.5 L1376.7,372.7 L1378.4,370.0 L1380.2,367.2 L1381.9,364.5 L1383.6,361.8 L1385.3,359.0 L1387.0,356.3 L1388.7,353.5 L1390.5,350.8 L1392.2,348.1 L1393.9,345.3 L1395.6,342.6 L1397.3,339.9 L1399.0,337.1 L1400.8,334.4 L1402.5,331.7 L1404.2,329.0 L1405.9,326.2 L1407.6,323.5 L1409.4,320.8 L1411.1,318.1 L1412.8,315.3 L1414.5,312.6 L1416.2,309.9 L1418.0,307.1 L1419.7,304.4 L1421.4,301.7 L1423.2,299.0 L1424.9,296.2 L1426.6,293.5 L1428.4,290.8 L1430.1,288.1 L1431.9,285.3 L1433.6,282.6 L1435.3,279.9 L1437.1,277.1 L1438.8,274.4 L1440.6,271.6 L1442.3,268.9 L1444.1,266.2 L1445.9,263.4 L1447.6,260.7 L1449.4,257.9 L1451.2,255.2 L1452.9,252.4 L1454.7,249.7 L1456.5,246.9 L1458.3,244.2 L1460.0,241.4 L1461.8,238.7 L1463.6,235.9 L1465.4,233.1 L1467.2,230.4 L1469.0,227.6 L1470.8,224.8 L1472.6,222.0 L1474.5,219.3 L1476.3,216.5 L1478.1,213.7 L1479.9,210.9 L1481.8,208.1 L1483.6,205.4 L1485.5,202.6 L1487.3,199.9 L1489.2,197.1 L1491.1,194.4 L1493.1,191.7 L1495.0,189.0 L1497.0,186.4 L1499.0,183.8 L1501.0,181.2 L1503.1,178.6 L1505.1,176.1 L1507.2,173.7 L1509.4,171.2 L1511.6,168.8 L1513.8,166.5 L1516.0,164.2 L1518.3,162.0 L1520.7,159.8 L1523.0,157.7 L1525.5,155.7 L1527.9,153.7 L1530.5,151.8 L1533.0,150.0 L1535.7,148.2 L1538.3,146.6 L1541.1,145.0 L1543.8,143.5 L1546.7,142.2 L1549.6,140.9 L1552.5,139.8 L1555.6,138.9 L1558.6,138.0 L1561.8,137.3 L1565.0,136.8 L1568.2,136.5 L1571.5,136.3 L1574.9,136.3 L1578.4,136.4 L1581.9,136.8" fill="none" stroke="#996633" stroke-width="2.9" stroke-linecap="round" stroke-linejoin="round"/>
<path d="M986.8,664.2 L989.8,664.2 L992.8,664.2 L995.8,664.2 L998.8,664.2 L1001.8,664.2 L1004.8,664.2 L1007.9,664.2 L1010.9,664.2 L1014.0,664.2 L1017.0,664.2 L1020.1,664.2 L1023.2,664.1 L1026.2,664.0 L1029.3,663.8 L1032.4,663.6 L1035.5,663.4 L1038.6,663.1 L1041.7,662.9 L1044.7,662.6 L1047.8,662.3 L1050.9,661.9 L1054.0,661.5 L1057.1,661.1 L1060.1,660.7 L1063.2,660.2 L1066.2,659.7 L1069.3,659.2 L1072.3,658.6 L1075.4,658.0 L1078.4,657.4 L1081.4,656.8 L1084.4,656.1 L1087.4,655.3 L1090.4,654.6 L1093.4,653.8 L1096.4,653.0 L1099.3,652.1 L1102.2,651.2 L1105.1,650.3 L1108.0,649.3 L1110.9,648.3 L1113.8,647.2 L1116.6,646.1 L1119.4,645.0 L1122.2,643.8 L1125.0,642.6 L1127.8,641.4 L1130.5,640.1 L1133.3,638.8 L1136.0,637.4 L1138.7,636.0 L1141.3,634.6 L1144.0,633.1 L1146.6,631.6 L1149.2,630.1 L1151.8,628.5 L1154.4,626.9 L1156.9,625.3 L1159.5,623.7 L1162.0,622.0 L1164.5,620.3 L1167.0,618.5 L1169.5,616.7 L1171.9,614.9 L1174.4,613.1 L1176.8,611.3 L1179.2,609.4 L1181.6,607.5 L1184.0,605.6 L1186.3,603.6 L1188.7,601.6 L1191.0,599.6 L1193.3,597.6 L1195.6,595.6 L1197.9,593.5 L1200.2,591.4 L1202.4,589.3 L1204.7,587.2 L1206.9,585.1 L1209.1,582.9 L1211.3,580.7 L1213.5,578.5 L1215.7,576.3 L1217.8,574.1 L1219.9,571.9 L1222.1,569.6 L1224.2,567.4 L1226.3,565.1 L1228.4,562.8 L1230.5,560.5 L1232.5,558.2 L1234.6,555.9 L1236.6,553.5 L1238.6,551.2 L1240.7,548.9 L1242.7,546.5 L1244.7,544.1 L1246.6,541.8 L1248.6,539.4 L1250.6,537.0 L1252.5,534.6 L1254.5,532.2 L1256.4,529.9 L1258.3,527.5 L1260.2,525.0 L1262.1,522.6 L1264.0,520.2 L1265.9,517.8 L1267.7,515.4 L1269.6,512.9 L1271.4,510.5 L1273.3,508.1 L1275.1,505.6 L1276.9,503.2 L1278.7,500.7 L1280.5,498.2 L1282.3,495.8 L1284.1,493.3 L1285.9,490.8 L1287.7,488.4 L1289.4,485.9 L1291.2,483.4 L1293.0,480.9 L1294.7,478.4 L1296.4,475.9 L1298.2,473.4 L1299.9,470.9 L1301.6,468.4 L1303.3,465.9 L1305.0,463.3 L1306.7,460.8 L1308.4,458.3 L1310.1,455.7 L1311.8,453.2 L1313.4,450.7 L1315.1,448.1 L1316.8,445.6 L1318.4,443.0 L1320.1,440.5 L1321.7,437.9 L1323.4,435.4 L1325.0,432.8 L1326.6,430.2 L1328.3,427.7 L1329.9,425.1 L1331.5,422.5 L1333.1,419.9 L1334.7,417.4 L1336.4,414.8 L1338.0,412.2 L1339.6,409.6 L1341.2,407.0 L1342.8,404.4 L1344.4,401.8 L1346.0,399.2 L1347.6,396.6 L1349.2,394.0 L1350.8,391.4 L1352.3,388.8 L1353.9,386.2 L1355.5,383.6 L1357.1,381.0 L1358.7,378.4 L1360.3,375.7 L1361.9,373.1 L1363.4,370.5 L1365.0,367.9 L1366.6,365.3 L1368.2,362.6 L1369.8,360.0 L1371.3,357.4 L1372.9,354.7 L1374.5,352.1 L1376.1,349.5 L1377.7,346.8 L1379.3,344.2 L1380.9,341.6 L1382.4,338.9 L1384.0,336.3 L1385.6,333.6 L1387.2,331.0 L1388.8,328.4 L1390.4,325.7 L1392.0,323.1 L1393.6,320.5 L1395.3,317.8 L1396.9,315.2 L1398.5,312.6 L1400.1,310.0 L1401.8,307.3 L1403.4,304.7 L1405.0,302.1 L1406.7,299.5 L1408.4,296.9 L1410.0,294.3 L1411.7,291.7 L1413.4,289.1 L1415.1,286.6 L1416.8,284.0 L1418.5,281.4 L1420.2,278.9 L1421.9,276.3 L1423.6,273.8 L1425.4,271.2 L1427.1,268.7 L1428.9,266.2 L1430.7,263.7 L1432.5,261.2 L1434.3,258.7 L1436.1,256.2 L1437.9,253.7 L1439.7,251.3 L1441.6,248.8 L1443.4,246.4 L1445.3,243.9 L1447.2,241.5 L1449.1,239.1 L1451.0,236.7 L1453.0,234.3 L1454.9,232.0 L1456.9,229.6 L1458.9,227.3 L1460.9,225.0 L1462.9,222.7 L1464.9,220.4 L1466.9,218.1 L1469.0,215.8 L1471.1,213.6 L1473.2,211.4 L1475.3,209.1 L1477.4,207.0 L1479.6,204.8 L1481.8,202.6 L1484.0,200.5 L1486.2,198.4 L1488.4,196.4 L1490.7,194.4 L1493.0,192.4 L1495.4,190.6 L1497.7,188.7 L1500.2,187.0 L1502.6,185.3 L1505.1,183.6 L1507.6,182.1 L1510.2,180.6 L1512.8,179.2 L1515.4,178.0 L1518.1,176.8 L1520.9,175.7 L1523.7,174.7 L1526.5,173.8 L1529.4,173.1 L1532.4,172.5 L1535.4,172.0 L1538.5,171.6 L1541.6,171.4 L1544.8,171.3 L1548.0,171.4 L1551.3,171.6" fill="none" stroke="#ff0000" stroke-width="2.9" stroke-linecap="round" stroke-linejoin="round"/>
<path d="M986.8,13.2 H1638.5" fill="none" stroke="#777" stroke-width="1.6"/>
<path d="M1638.5,12.399999999999999 V664.2" fill="none" stroke="#2a2a2a" stroke-width="1.4"/>
<path d="M986.8,11.2 V664.2 H1639.2" fill="none" stroke="#000" stroke-width="3"/>
<line x1="969.8" y1="664.20" x2="986.8" y2="664.20" stroke="#000" stroke-width="3"/>
<text transform="translate(959.20,674.00) scale(0.915,1)" font-size="29.2" font-weight="bold" text-anchor="end" >0</text>
<line x1="969.8" y1="599.05" x2="986.8" y2="599.05" stroke="#000" stroke-width="3"/>
<text transform="translate(959.20,608.85) scale(0.915,1)" font-size="29.2" font-weight="bold" text-anchor="end" >0.2</text>
<line x1="969.8" y1="533.90" x2="986.8" y2="533.90" stroke="#000" stroke-width="3"/>
<text transform="translate(959.20,543.70) scale(0.915,1)" font-size="29.2" font-weight="bold" text-anchor="end" >0.4</text>
<line x1="969.8" y1="468.75" x2="986.8" y2="468.75" stroke="#000" stroke-width="3"/>
<text transform="translate(959.20,478.55) scale(0.915,1)" font-size="29.2" font-weight="bold" text-anchor="end" >0.6</text>
<line x1="969.8" y1="403.60" x2="986.8" y2="403.60" stroke="#000" stroke-width="3"/>
<text transform="translate(959.20,413.40) scale(0.915,1)" font-size="29.2" font-weight="bold" text-anchor="end" >0.8</text>
<line x1="969.8" y1="338.45" x2="986.8" y2="338.45" stroke="#000" stroke-width="3"/>
<text transform="translate(959.20,348.25) scale(0.915,1)" font-size="29.2" font-weight="bold" text-anchor="end" >1</text>
<line x1="969.8" y1="273.30" x2="986.8" y2="273.30" stroke="#000" stroke-width="3"/>
<text transform="translate(959.20,283.10) scale(0.915,1)" font-size="29.2" font-weight="bold" text-anchor="end" >1.2</text>
<line x1="969.8" y1="208.15" x2="986.8" y2="208.15" stroke="#000" stroke-width="3"/>
<text transform="translate(959.20,217.95) scale(0.915,1)" font-size="29.2" font-weight="bold" text-anchor="end" >1.4</text>
<line x1="969.8" y1="143.00" x2="986.8" y2="143.00" stroke="#000" stroke-width="3"/>
<text transform="translate(959.20,152.80) scale(0.915,1)" font-size="29.2" font-weight="bold" text-anchor="end" >1.6</text>
<line x1="969.8" y1="77.85" x2="986.8" y2="77.85" stroke="#000" stroke-width="3"/>
<text transform="translate(959.20,87.65) scale(0.915,1)" font-size="29.2" font-weight="bold" text-anchor="end" >1.8</text>
<line x1="969.8" y1="12.70" x2="986.8" y2="12.70" stroke="#000" stroke-width="3"/>
<text transform="translate(959.20,22.50) scale(0.915,1)" font-size="29.2" font-weight="bold" text-anchor="end" >2</text>
<line x1="986.80" y1="664.2" x2="986.80" y2="681.2" stroke="#000" stroke-width="3"/>
<text transform="translate(986.80,716.20) scale(0.915,1)" font-size="29.2" font-weight="bold" text-anchor="middle" >0</text>
<line x1="1051.97" y1="664.2" x2="1051.97" y2="681.2" stroke="#000" stroke-width="3"/>
<text transform="translate(1051.97,716.20) scale(0.915,1)" font-size="29.2" font-weight="bold" text-anchor="middle" >1</text>
<line x1="1117.14" y1="664.2" x2="1117.14" y2="681.2" stroke="#000" stroke-width="3"/>
<text transform="translate(1117.14,716.20) scale(0.915,1)" font-size="29.2" font-weight="bold" text-anchor="middle" >2</text>
<line x1="1182.31" y1="664.2" x2="1182.31" y2="681.2" stroke="#000" stroke-width="3"/>
<text transform="translate(1182.31,716.20) scale(0.915,1)" font-size="29.2" font-weight="bold" text-anchor="middle" >3</text>
<line x1="1247.48" y1="664.2" x2="1247.48" y2="681.2" stroke="#000" stroke-width="3"/>
<text transform="translate(1247.48,716.20) scale(0.915,1)" font-size="29.2" font-weight="bold" text-anchor="middle" >4</text>
<line x1="1312.65" y1="664.2" x2="1312.65" y2="681.2" stroke="#000" stroke-width="3"/>
<text transform="translate(1312.65,716.20) scale(0.915,1)" font-size="29.2" font-weight="bold" text-anchor="middle" >5</text>
<line x1="1377.82" y1="664.2" x2="1377.82" y2="681.2" stroke="#000" stroke-width="3"/>
<text transform="translate(1377.82,716.20) scale(0.915,1)" font-size="29.2" font-weight="bold" text-anchor="middle" >6</text>
<line x1="1442.99" y1="664.2" x2="1442.99" y2="681.2" stroke="#000" stroke-width="3"/>
<text transform="translate(1442.99,716.20) scale(0.915,1)" font-size="29.2" font-weight="bold" text-anchor="middle" >7</text>
<line x1="1508.16" y1="664.2" x2="1508.16" y2="681.2" stroke="#000" stroke-width="3"/>
<text transform="translate(1508.16,716.20) scale(0.915,1)" font-size="29.2" font-weight="bold" text-anchor="middle" >8</text>
<line x1="1573.33" y1="664.2" x2="1573.33" y2="681.2" stroke="#000" stroke-width="3"/>
<text transform="translate(1573.33,716.20) scale(0.915,1)" font-size="29.2" font-weight="bold" text-anchor="middle" >9</text>
<line x1="1638.50" y1="664.2" x2="1638.50" y2="681.2" stroke="#000" stroke-width="3"/>
<text transform="translate(1638.50,716.20) scale(0.915,1)" font-size="29.2" font-weight="bold" text-anchor="middle" >10</text>
<rect x="1079.8" y="60.6" width="244.3" height="167.9" fill="#fff" stroke="#333" stroke-width="1.5"/>
<text transform="translate(1089.80,96.30) scale(0.952,1)" font-size="28.3" font-weight="bold" text-anchor="start" >SAXJ1808.4-3658</text>
<line x1="1090.6" y1="119.20" x2="1193.5" y2="119.20" stroke="#006633" stroke-width="2.7" stroke-linecap="round"/>
<text transform="translate(1204.00,125.80) scale(0.927,1)" font-size="22" font-weight="bold" text-anchor="start" >Model 1</text>
<line x1="1090.6" y1="148.30" x2="1193.5" y2="148.30" stroke="#0000ff" stroke-width="2.7" stroke-linecap="round"/>
<text transform="translate(1204.00,154.90) scale(0.927,1)" font-size="22" font-weight="bold" text-anchor="start" >Model 2</text>
<line x1="1090.6" y1="177.40" x2="1193.5" y2="177.40" stroke="#996633" stroke-width="2.7" stroke-linecap="round"/>
<text transform="translate(1204.00,184.00) scale(0.927,1)" font-size="22" font-weight="bold" text-anchor="start" >Model 3</text>
<line x1="1090.6" y1="206.50" x2="1193.5" y2="206.50" stroke="#ff0000" stroke-width="2.7" stroke-linecap="round"/>
<text transform="translate(1204.00,213.10) scale(0.927,1)" font-size="22" font-weight="bold" text-anchor="start" >Model 4</text>
<text transform="translate(909.30,338.30) rotate(-90) scale(1.0,1.0)" font-size="30" font-weight="normal" text-anchor="middle" stroke="#fff" stroke-width="0.35">ν</text>
<text transform="translate(1275.30,757.50) scale(1.2,1)" font-size="33" font-style="italic" font-weight="normal" stroke="#fff" stroke-width="0.3">r</text>
<text transform="translate(1297.40,757.60) scale(1.0100805555555554,1)" font-size="26.4" font-weight="bold" text-anchor="start" >(km)</text>
<path d="M182.2,1052.9 L185.2,1052.9 L188.1,1052.9 L191.1,1052.9 L194.1,1053.0 L197.0,1053.1 L200.0,1053.2 L202.9,1053.3 L205.9,1053.5 L208.8,1053.7 L211.7,1054.0 L214.7,1054.2 L217.6,1054.5 L220.5,1054.8 L223.4,1055.2 L226.3,1055.6 L229.2,1056.0 L232.1,1056.4 L235.0,1056.8 L237.8,1057.3 L240.7,1057.8 L243.6,1058.3 L246.4,1058.9 L249.3,1059.5 L252.2,1060.1 L255.0,1060.7 L257.8,1061.3 L260.7,1062.0 L263.5,1062.7 L266.3,1063.4 L269.1,1064.1 L272.0,1064.9 L274.8,1065.7 L277.6,1066.5 L280.4,1067.3 L283.1,1068.2 L285.9,1069.0 L288.7,1069.9 L291.5,1070.8 L294.3,1071.7 L297.0,1072.7 L299.8,1073.6 L302.5,1074.6 L305.3,1075.6 L308.0,1076.6 L310.7,1077.6 L313.5,1078.7 L316.2,1079.7 L318.9,1080.8 L321.6,1081.9 L324.3,1083.0 L327.0,1084.2 L329.7,1085.3 L332.4,1086.5 L335.1,1087.6 L337.8,1088.8 L340.4,1090.0 L343.1,1091.2 L345.8,1092.5 L348.4,1093.7 L351.1,1095.0 L353.7,1096.2 L356.3,1097.5 L359.0,1098.8 L361.6,1100.1 L364.2,1101.4 L366.8,1102.7 L369.4,1104.1 L372.0,1105.4 L374.6,1106.8 L377.2,1108.1 L379.8,1109.5 L382.4,1110.9 L385.0,1112.3 L387.5,1113.7 L390.1,1115.2 L392.7,1116.6 L395.2,1118.0 L397.8,1119.5 L400.3,1120.9 L402.8,1122.4 L405.4,1123.9 L407.9,1125.4 L410.4,1126.9 L412.9,1128.4 L415.4,1129.9 L417.9,1131.5 L420.4,1133.0 L422.9,1134.6 L425.4,1136.1 L427.8,1137.7 L430.3,1139.3 L432.8,1140.9 L435.2,1142.5 L437.7,1144.1 L440.1,1145.7 L442.6,1147.3 L445.0,1148.9 L447.4,1150.6 L449.9,1152.2 L452.3,1153.9 L454.7,1155.6 L457.1,1157.2 L459.5,1158.9 L461.9,1160.6 L464.3,1162.3 L466.7,1164.0 L469.0,1165.8 L471.4,1167.5 L473.8,1169.2 L476.1,1171.0 L478.5,1172.7 L480.8,1174.5 L483.2,1176.2 L485.5,1178.0 L487.8,1179.8 L490.1,1181.6 L492.5,1183.4 L494.8,1185.2 L497.1,1187.0 L499.4,1188.8 L501.7,1190.6 L503.9,1192.5 L506.2,1194.3 L508.5,1196.2 L510.8,1198.0 L513.0,1199.9 L515.3,1201.7 L517.5,1203.6 L519.8,1205.5 L522.0,1207.4 L524.3,1209.3 L526.5,1211.2 L528.7,1213.1 L530.9,1215.0 L533.2,1216.9 L535.4,1218.8 L537.6,1220.7 L539.8,1222.6 L542.0,1224.6 L544.2,1226.5 L546.4,1228.4 L548.6,1230.4 L550.8,1232.3 L553.0,1234.2 L555.2,1236.2 L557.4,1238.1 L559.6,1240.0 L561.8,1242.0 L564.0,1243.9 L566.2,1245.8 L568.4,1247.8 L570.5,1249.7 L572.7,1251.7 L574.9,1253.6 L577.1,1255.5 L579.3,1257.4 L581.5,1259.4 L583.7,1261.3 L585.9,1263.2 L588.1,1265.1 L590.4,1267.0 L592.6,1268.9 L594.8,1270.8 L597.0,1272.7 L599.2,1274.6 L601.5,1276.5 L603.7,1278.4 L605.9,1280.3 L608.2,1282.2 L610.4,1284.0 L612.7,1285.9 L615.0,1287.7 L617.2,1289.6 L619.5,1291.4 L621.8,1293.2 L624.1,1295.0 L626.4,1296.9 L628.7,1298.7 L631.0,1300.4 L633.3,1302.2 L635.6,1304.0 L637.9,1305.8 L640.3,1307.5 L642.6,1309.3 L645.0,1311.0 L647.3,1312.8 L649.7,1314.5 L652.0,1316.3 L654.3,1318.0 L656.7,1319.8 L659.0,1321.6 L661.4,1323.3 L663.7,1325.1 L666.0,1326.9 L668.3,1328.6 L670.6,1330.4 L672.9,1332.2 L675.2,1334.0 L677.5,1335.8 L679.8,1337.7 L682.1,1339.5 L684.3,1341.4 L686.6,1343.3 L688.8,1345.2 L691.0,1347.1 L693.2,1349.0 L695.4,1351.0 L697.5,1352.9 L699.7,1354.9 L701.8,1357.0 L703.9,1359.0 L705.9,1361.1 L708.0,1363.2 L710.0,1365.3 L712.0,1367.5 L714.0,1369.7 L716.0,1371.9 L717.9,1374.1 L719.8,1376.4 L721.7,1378.6 L723.6,1380.9 L725.4,1383.3 L727.2,1385.6 L729.0,1388.0 L730.8,1390.3 L732.5,1392.7 L734.2,1395.1 L735.9,1397.6 L737.5,1400.0 L739.2,1402.5 L740.8,1404.9 L742.3,1407.4 L743.9,1409.9 L745.4,1412.4 L746.9,1414.9 L748.4,1417.4 L749.8,1419.9 L751.2,1422.4 L752.6,1424.9 L753.9,1427.5 L755.2,1430.0 L756.5,1432.5 L757.9,1435.0 L759.2,1437.5 L760.7,1439.9 L762.2,1442.3 L763.9,1444.5 L765.8,1446.7 L767.8,1448.8 L770.0,1450.8 L772.4,1452.6 L774.9,1454.3 L777.5,1455.8 L780.2,1457.2 L783.0,1458.3 L785.9,1459.2 L788.8,1459.9 L791.7,1460.4 L794.7,1460.6" fill="none" stroke="#006633" stroke-width="4" stroke-linecap="round" stroke-linejoin="round"/>
<path d="M182.2,972.6 L185.3,972.7 L188.4,972.9 L191.5,973.1 L194.6,973.3 L197.7,973.6 L200.8,973.9 L203.8,974.2 L206.9,974.6 L209.9,975.0 L212.9,975.4 L216.0,975.8 L219.0,976.3 L222.0,976.9 L225.0,977.4 L227.9,978.0 L230.9,978.6 L233.9,979.2 L236.8,979.9 L239.8,980.6 L242.7,981.3 L245.6,982.1 L248.5,982.8 L251.4,983.6 L254.3,984.5 L257.2,985.3 L260.1,986.2 L263.0,987.1 L265.8,988.1 L268.7,989.0 L271.5,990.0 L274.3,991.0 L277.2,992.1 L280.0,993.2 L282.8,994.2 L285.6,995.4 L288.4,996.5 L291.1,997.7 L293.9,998.8 L296.7,1000.1 L299.4,1001.3 L302.1,1002.5 L304.9,1003.8 L307.6,1005.1 L310.3,1006.4 L313.0,1007.8 L315.7,1009.1 L318.4,1010.5 L321.1,1011.9 L323.7,1013.3 L326.4,1014.8 L329.1,1016.2 L331.7,1017.7 L334.3,1019.2 L337.0,1020.7 L339.6,1022.3 L342.2,1023.8 L344.8,1025.4 L347.4,1027.0 L350.0,1028.6 L352.5,1030.2 L355.1,1031.8 L357.7,1033.5 L360.2,1035.2 L362.8,1036.9 L365.3,1038.6 L367.8,1040.3 L370.3,1042.0 L372.9,1043.8 L375.4,1045.5 L377.9,1047.3 L380.3,1049.1 L382.8,1050.9 L385.3,1052.7 L387.7,1054.5 L390.2,1056.4 L392.6,1058.2 L395.1,1060.1 L397.5,1061.9 L399.9,1063.8 L402.4,1065.7 L404.8,1067.6 L407.2,1069.6 L409.6,1071.5 L411.9,1073.4 L414.3,1075.4 L416.7,1077.3 L419.0,1079.3 L421.4,1081.3 L423.7,1083.2 L426.1,1085.2 L428.4,1087.2 L430.7,1089.2 L433.1,1091.2 L435.4,1093.3 L437.7,1095.3 L440.0,1097.3 L442.2,1099.4 L444.5,1101.4 L446.8,1103.5 L449.1,1105.5 L451.3,1107.6 L453.6,1109.6 L455.8,1111.7 L458.1,1113.8 L460.3,1115.9 L462.5,1117.9 L464.7,1120.0 L466.9,1122.1 L469.2,1124.2 L471.4,1126.3 L473.6,1128.4 L475.7,1130.6 L477.9,1132.7 L480.1,1134.8 L482.3,1136.9 L484.4,1139.0 L486.6,1141.2 L488.8,1143.3 L490.9,1145.5 L493.1,1147.6 L495.2,1149.8 L497.4,1151.9 L499.5,1154.1 L501.6,1156.2 L503.8,1158.4 L505.9,1160.5 L508.0,1162.7 L510.1,1164.9 L512.2,1167.1 L514.3,1169.2 L516.5,1171.4 L518.6,1173.6 L520.7,1175.8 L522.8,1178.0 L524.9,1180.2 L526.9,1182.4 L529.0,1184.5 L531.1,1186.7 L533.2,1188.9 L535.3,1191.1 L537.4,1193.3 L539.4,1195.5 L541.5,1197.7 L543.6,1200.0 L545.7,1202.2 L547.7,1204.4 L549.8,1206.6 L551.9,1208.8 L554.0,1211.0 L556.0,1213.2 L558.1,1215.4 L560.2,1217.6 L562.2,1219.9 L564.3,1222.1 L566.3,1224.3 L568.4,1226.5 L570.5,1228.7 L572.5,1230.9 L574.6,1233.2 L576.7,1235.4 L578.7,1237.6 L580.8,1239.8 L582.9,1242.0 L584.9,1244.2 L587.0,1246.5 L589.1,1248.7 L591.1,1250.9 L593.2,1253.1 L595.3,1255.3 L597.3,1257.5 L599.4,1259.7 L601.5,1262.0 L603.6,1264.2 L605.6,1266.4 L607.7,1268.6 L609.8,1270.8 L611.9,1273.0 L614.0,1275.2 L616.1,1277.4 L618.2,1279.6 L620.2,1281.8 L622.3,1284.0 L624.4,1286.2 L626.5,1288.4 L628.7,1290.6 L630.8,1292.8 L632.9,1294.9 L635.0,1297.1 L637.1,1299.3 L639.2,1301.5 L641.4,1303.7 L643.5,1305.8 L645.6,1308.0 L647.8,1310.2 L649.9,1312.4 L652.0,1314.5 L654.1,1316.7 L656.2,1318.9 L658.4,1321.1 L660.5,1323.3 L662.5,1325.5 L664.6,1327.7 L666.7,1330.0 L668.8,1332.2 L670.8,1334.5 L672.9,1336.7 L674.9,1339.0 L676.9,1341.3 L678.9,1343.6 L680.8,1345.9 L682.8,1348.3 L684.7,1350.6 L686.6,1353.0 L688.5,1355.4 L690.4,1357.9 L692.2,1360.3 L694.0,1362.8 L695.8,1365.3 L697.6,1367.8 L699.3,1370.3 L701.0,1372.9 L702.7,1375.4 L704.4,1378.0 L706.0,1380.6 L707.6,1383.3 L709.2,1385.9 L710.8,1388.5 L712.3,1391.2 L713.9,1393.9 L715.4,1396.5 L716.9,1399.2 L718.3,1401.9 L719.8,1404.6 L721.2,1407.3 L722.7,1410.0 L724.1,1412.7 L725.5,1415.4 L726.8,1418.0 L728.2,1420.7 L729.5,1423.4 L730.9,1426.1 L732.2,1428.7 L733.5,1431.4 L734.8,1434.0 L736.2,1436.6 L737.7,1439.1 L739.2,1441.5 L740.9,1443.9 L742.7,1446.2 L744.6,1448.3 L746.8,1450.4 L749.1,1452.3 L751.6,1454.1 L754.2,1455.6 L756.9,1457.0 L759.8,1458.3 L762.8,1459.3 L766.0,1460.1 L769.2,1460.6" fill="none" stroke="#0000ff" stroke-width="4" stroke-linecap="round" stroke-linejoin="round"/>
<path d="M182.2,972.6 L185.3,972.7 L188.4,972.9 L191.5,973.0 L194.6,973.3 L197.7,973.5 L200.8,973.8 L203.9,974.1 L207.0,974.4 L210.0,974.8 L213.1,975.2 L216.1,975.6 L219.1,976.1 L222.1,976.6 L225.2,977.1 L228.2,977.7 L231.2,978.3 L234.1,978.9 L237.1,979.5 L240.1,980.2 L243.1,980.9 L246.0,981.6 L249.0,982.4 L251.9,983.2 L254.8,984.0 L257.7,984.8 L260.6,985.7 L263.5,986.5 L266.4,987.5 L269.3,988.4 L272.2,989.4 L275.1,990.4 L277.9,991.4 L280.8,992.4 L283.6,993.5 L286.4,994.6 L289.3,995.7 L292.1,996.8 L294.9,998.0 L297.7,999.1 L300.5,1000.3 L303.3,1001.6 L306.0,1002.8 L308.8,1004.1 L311.6,1005.4 L314.3,1006.7 L317.0,1008.0 L319.8,1009.4 L322.5,1010.7 L325.2,1012.1 L327.9,1013.5 L330.6,1015.0 L333.3,1016.4 L336.0,1017.9 L338.7,1019.4 L341.3,1020.9 L344.0,1022.4 L346.6,1024.0 L349.3,1025.5 L351.9,1027.1 L354.5,1028.7 L357.1,1030.3 L359.7,1031.9 L362.3,1033.6 L364.9,1035.2 L367.5,1036.9 L370.1,1038.6 L372.6,1040.3 L375.2,1042.0 L377.7,1043.8 L380.2,1045.5 L382.8,1047.3 L385.3,1049.0 L387.8,1050.8 L390.3,1052.6 L392.8,1054.4 L395.3,1056.3 L397.8,1058.1 L400.2,1060.0 L402.7,1061.8 L405.2,1063.7 L407.6,1065.6 L410.0,1067.5 L412.5,1069.4 L414.9,1071.3 L417.3,1073.2 L419.7,1075.2 L422.1,1077.1 L424.5,1079.1 L426.9,1081.0 L429.2,1083.0 L431.6,1085.0 L433.9,1087.0 L436.3,1089.0 L438.6,1091.0 L440.9,1093.0 L443.3,1095.0 L445.6,1097.1 L447.9,1099.1 L450.2,1101.1 L452.5,1103.2 L454.7,1105.2 L457.0,1107.3 L459.3,1109.3 L461.5,1111.4 L463.8,1113.5 L466.0,1115.5 L468.2,1117.6 L470.5,1119.7 L472.7,1121.8 L474.9,1123.9 L477.1,1126.0 L479.3,1128.1 L481.5,1130.2 L483.7,1132.3 L485.9,1134.5 L488.1,1136.6 L490.2,1138.7 L492.4,1140.9 L494.6,1143.0 L496.7,1145.1 L498.9,1147.3 L501.1,1149.4 L503.2,1151.6 L505.3,1153.7 L507.5,1155.9 L509.6,1158.1 L511.8,1160.2 L513.9,1162.4 L516.0,1164.6 L518.1,1166.7 L520.3,1168.9 L522.4,1171.1 L524.5,1173.3 L526.6,1175.5 L528.7,1177.7 L530.9,1179.9 L533.0,1182.0 L535.1,1184.2 L537.2,1186.4 L539.3,1188.6 L541.4,1190.8 L543.5,1193.1 L545.6,1195.3 L547.7,1197.5 L549.9,1199.7 L552.0,1201.9 L554.1,1204.1 L556.2,1206.3 L558.3,1208.5 L560.4,1210.7 L562.5,1213.0 L564.6,1215.2 L566.8,1217.4 L568.9,1219.6 L571.0,1221.8 L573.1,1224.1 L575.2,1226.3 L577.3,1228.5 L579.4,1230.7 L581.5,1233.0 L583.7,1235.2 L585.8,1237.4 L587.9,1239.6 L590.0,1241.8 L592.1,1244.1 L594.2,1246.3 L596.4,1248.5 L598.5,1250.7 L600.6,1253.0 L602.7,1255.2 L604.8,1257.4 L607.0,1259.6 L609.1,1261.8 L611.2,1264.0 L613.3,1266.3 L615.4,1268.5 L617.5,1270.7 L619.7,1272.9 L621.8,1275.1 L623.9,1277.3 L626.0,1279.5 L628.1,1281.7 L630.3,1283.9 L632.4,1286.1 L634.5,1288.3 L636.6,1290.5 L638.8,1292.7 L640.9,1294.9 L643.0,1297.1 L645.1,1299.3 L647.2,1301.4 L649.4,1303.6 L651.5,1305.8 L653.6,1308.0 L655.7,1310.1 L657.8,1312.3 L659.9,1314.5 L662.1,1316.7 L664.2,1318.9 L666.3,1321.1 L668.4,1323.3 L670.5,1325.5 L672.6,1327.7 L674.6,1329.9 L676.7,1332.1 L678.8,1334.3 L680.9,1336.6 L682.9,1338.8 L685.0,1341.1 L687.0,1343.4 L689.0,1345.7 L691.1,1348.0 L693.1,1350.3 L695.1,1352.6 L697.1,1355.0 L699.0,1357.4 L701.0,1359.7 L703.0,1362.2 L704.9,1364.6 L706.8,1367.0 L708.7,1369.5 L710.6,1372.0 L712.5,1374.5 L714.3,1377.0 L716.2,1379.5 L717.9,1382.1 L719.7,1384.7 L721.4,1387.2 L723.1,1389.8 L724.7,1392.4 L726.3,1395.0 L727.9,1397.6 L729.4,1400.3 L730.9,1402.9 L732.4,1405.5 L733.8,1408.2 L735.2,1410.8 L736.6,1413.5 L738.0,1416.2 L739.4,1418.8 L740.7,1421.5 L742.2,1424.1 L743.6,1426.8 L745.0,1429.4 L746.5,1432.1 L748.1,1434.7 L749.7,1437.3 L751.3,1439.8 L753.0,1442.3 L754.9,1444.7 L756.8,1447.0 L758.8,1449.1 L761.0,1451.2 L763.3,1453.0 L765.7,1454.8 L768.3,1456.3 L771.1,1457.7 L774.1,1458.9 L777.2,1459.8" fill="none" stroke="#996633" stroke-width="4" stroke-linecap="round" stroke-linejoin="round"/>
<path d="M182.2,809.9 L185.8,810.0 L189.4,810.2 L192.9,810.4 L196.4,810.7 L199.9,811.1 L203.4,811.5 L206.8,812.0 L210.3,812.6 L213.7,813.2 L217.1,813.9 L220.4,814.6 L223.7,815.4 L227.1,816.3 L230.4,817.2 L233.6,818.1 L236.9,819.2 L240.1,820.2 L243.3,821.4 L246.5,822.5 L249.6,823.8 L252.8,825.0 L255.9,826.4 L259.0,827.8 L262.1,829.2 L265.1,830.6 L268.2,832.2 L271.2,833.7 L274.2,835.3 L277.2,836.9 L280.1,838.6 L283.1,840.3 L286.0,842.1 L288.9,843.9 L291.8,845.7 L294.6,847.6 L297.5,849.5 L300.3,851.4 L303.1,853.4 L305.9,855.4 L308.7,857.4 L311.4,859.5 L314.2,861.6 L316.9,863.7 L319.6,865.9 L322.3,868.0 L324.9,870.2 L327.6,872.5 L330.2,874.7 L332.9,877.0 L335.5,879.3 L338.1,881.6 L340.6,883.9 L343.2,886.2 L345.7,888.6 L348.3,891.0 L350.8,893.4 L353.3,895.8 L355.8,898.2 L358.2,900.6 L360.7,903.1 L363.1,905.5 L365.5,908.0 L368.0,910.5 L370.4,913.0 L372.8,915.5 L375.1,918.0 L377.5,920.5 L379.8,923.0 L382.2,925.5 L384.5,928.1 L386.8,930.7 L389.1,933.2 L391.4,935.8 L393.7,938.4 L395.9,941.0 L398.2,943.6 L400.4,946.2 L402.6,948.8 L404.9,951.4 L407.1,954.1 L409.3,956.7 L411.4,959.4 L413.6,962.1 L415.8,964.7 L417.9,967.4 L420.1,970.1 L422.2,972.8 L424.4,975.5 L426.5,978.2 L428.6,980.9 L430.7,983.6 L432.8,986.3 L434.9,989.1 L436.9,991.8 L439.0,994.5 L441.1,997.3 L443.1,1000.0 L445.1,1002.8 L447.2,1005.6 L449.2,1008.3 L451.2,1011.1 L453.2,1013.9 L455.3,1016.7 L457.3,1019.5 L459.2,1022.2 L461.2,1025.0 L463.2,1027.8 L465.2,1030.6 L467.2,1033.5 L469.1,1036.3 L471.1,1039.1 L473.0,1041.9 L475.0,1044.7 L476.9,1047.5 L478.9,1050.4 L480.8,1053.2 L482.7,1056.0 L484.7,1058.9 L486.6,1061.7 L488.5,1064.5 L490.4,1067.4 L492.3,1070.2 L494.2,1073.1 L496.1,1075.9 L498.0,1078.8 L499.9,1081.6 L501.8,1084.5 L503.7,1087.3 L505.6,1090.2 L507.5,1093.0 L509.4,1095.9 L511.3,1098.7 L513.1,1101.6 L515.0,1104.5 L516.9,1107.3 L518.7,1110.2 L520.6,1113.1 L522.5,1115.9 L524.3,1118.8 L526.2,1121.7 L528.1,1124.6 L529.9,1127.4 L531.8,1130.3 L533.7,1133.2 L535.5,1136.1 L537.4,1138.9 L539.2,1141.8 L541.1,1144.7 L542.9,1147.6 L544.8,1150.5 L546.6,1153.3 L548.5,1156.2 L550.3,1159.1 L552.2,1162.0 L554.1,1164.9 L555.9,1167.8 L557.8,1170.6 L559.6,1173.5 L561.5,1176.4 L563.3,1179.3 L565.2,1182.2 L567.1,1185.1 L568.9,1187.9 L570.8,1190.8 L572.6,1193.7 L574.5,1196.6 L576.4,1199.5 L578.2,1202.4 L580.1,1205.2 L582.0,1208.1 L583.9,1211.0 L585.7,1213.9 L587.6,1216.8 L589.5,1219.6 L591.4,1222.5 L593.3,1225.4 L595.2,1228.3 L597.1,1231.1 L599.0,1234.0 L600.9,1236.9 L602.8,1239.8 L604.7,1242.6 L606.6,1245.5 L608.5,1248.4 L610.4,1251.2 L612.3,1254.1 L614.3,1257.0 L616.2,1259.8 L618.1,1262.7 L620.1,1265.6 L622.0,1268.4 L623.9,1271.3 L625.9,1274.2 L627.8,1277.0 L629.7,1279.9 L631.7,1282.7 L633.6,1285.6 L635.5,1288.5 L637.5,1291.3 L639.4,1294.2 L641.3,1297.1 L643.2,1299.9 L645.2,1302.8 L647.1,1305.7 L649.0,1308.6 L650.9,1311.4 L652.8,1314.3 L654.7,1317.2 L656.6,1320.1 L658.4,1323.0 L660.3,1325.9 L662.2,1328.8 L664.0,1331.7 L665.9,1334.6 L667.7,1337.5 L669.5,1340.4 L671.3,1343.3 L673.1,1346.3 L674.9,1349.2 L676.7,1352.1 L678.5,1355.1 L680.2,1358.0 L682.0,1360.9 L683.7,1363.9 L685.4,1366.9 L687.1,1369.8 L688.8,1372.8 L690.5,1375.8 L692.1,1378.8 L693.8,1381.8 L695.4,1384.8 L697.0,1387.8 L698.6,1390.8 L700.1,1393.8 L701.7,1396.8 L703.2,1399.9 L704.7,1402.9 L706.2,1406.0 L707.7,1409.0 L709.1,1412.1 L710.6,1415.2 L712.0,1418.3 L713.4,1421.4 L714.7,1424.5 L716.1,1427.6 L717.4,1430.7 L718.7,1433.8 L720.1,1436.9 L721.5,1439.9 L723.1,1442.8 L724.8,1445.6 L726.6,1448.3 L728.7,1450.7 L731.0,1453.0 L733.6,1455.1 L736.5,1456.9 L739.7,1458.5 L743.3,1459.7 L747.3,1460.6" fill="none" stroke="#ff0000" stroke-width="4" stroke-linecap="round" stroke-linejoin="round"/>
<rect x="182.2" y="809.7" width="651.40" height="651.10" fill="none" stroke="#000" stroke-width="3"/>
<line x1="165.2" y1="1460.80" x2="182.2" y2="1460.80" stroke="#000" stroke-width="3"/>
<text transform="translate(154.60,1470.60) scale(0.915,1)" font-size="29.2" font-weight="bold" text-anchor="end" >0</text>
<line x1="165.2" y1="1395.69" x2="182.2" y2="1395.69" stroke="#000" stroke-width="3"/>
<text transform="translate(154.60,1405.49) scale(0.915,1)" font-size="29.2" font-weight="bold" text-anchor="end" >2E+014</text>
<line x1="165.2" y1="1330.58" x2="182.2" y2="1330.58" stroke="#000" stroke-width="3"/>
<text transform="translate(154.60,1340.38) scale(0.915,1)" font-size="29.2" font-weight="bold" text-anchor="end" >4E+014</text>
<line x1="165.2" y1="1265.47" x2="182.2" y2="1265.47" stroke="#000" stroke-width="3"/>
<text transform="translate(154.60,1275.27) scale(0.915,1)" font-size="29.2" font-weight="bold" text-anchor="end" >6E+014</text>
<line x1="165.2" y1="1200.36" x2="182.2" y2="1200.36" stroke="#000" stroke-width="3"/>
<text transform="translate(154.60,1210.16) scale(0.915,1)" font-size="29.2" font-weight="bold" text-anchor="end" >8E+014</text>
<line x1="165.2" y1="1135.25" x2="182.2" y2="1135.25" stroke="#000" stroke-width="3"/>
<text transform="translate(154.60,1145.05) scale(0.915,1)" font-size="29.2" font-weight="bold" text-anchor="end" >1E+015</text>
<line x1="165.2" y1="1070.14" x2="182.2" y2="1070.14" stroke="#000" stroke-width="3"/>
<text transform="translate(154.60,1079.94) scale(0.915,1)" font-size="29.2" font-weight="bold" text-anchor="end" >1.2E+015</text>
<line x1="165.2" y1="1005.03" x2="182.2" y2="1005.03" stroke="#000" stroke-width="3"/>
<text transform="translate(154.60,1014.83) scale(0.915,1)" font-size="29.2" font-weight="bold" text-anchor="end" >1.4E+015</text>
<line x1="165.2" y1="939.92" x2="182.2" y2="939.92" stroke="#000" stroke-width="3"/>
<text transform="translate(154.60,949.72) scale(0.915,1)" font-size="29.2" font-weight="bold" text-anchor="end" >1.6E+015</text>
<line x1="165.2" y1="874.81" x2="182.2" y2="874.81" stroke="#000" stroke-width="3"/>
<text transform="translate(154.60,884.61) scale(0.915,1)" font-size="29.2" font-weight="bold" text-anchor="end" >1.8E+015</text>
<line x1="165.2" y1="809.70" x2="182.2" y2="809.70" stroke="#000" stroke-width="3"/>
<text transform="translate(154.60,819.50) scale(0.915,1)" font-size="29.2" font-weight="bold" text-anchor="end" >2E+015</text>
<line x1="182.20" y1="1460.8" x2="182.20" y2="1477.8" stroke="#000" stroke-width="3"/>
<text transform="translate(182.20,1512.80) scale(0.915,1)" font-size="29.2" font-weight="bold" text-anchor="middle" >0</text>
<line x1="247.34" y1="1460.8" x2="247.34" y2="1477.8" stroke="#000" stroke-width="3"/>
<text transform="translate(247.34,1512.80) scale(0.915,1)" font-size="29.2" font-weight="bold" text-anchor="middle" >1</text>
<line x1="312.48" y1="1460.8" x2="312.48" y2="1477.8" stroke="#000" stroke-width="3"/>
<text transform="translate(312.48,1512.80) scale(0.915,1)" font-size="29.2" font-weight="bold" text-anchor="middle" >2</text>
<line x1="377.62" y1="1460.8" x2="377.62" y2="1477.8" stroke="#000" stroke-width="3"/>
<text transform="translate(377.62,1512.80) scale(0.915,1)" font-size="29.2" font-weight="bold" text-anchor="middle" >3</text>
<line x1="442.76" y1="1460.8" x2="442.76" y2="1477.8" stroke="#000" stroke-width="3"/>
<text transform="translate(442.76,1512.80) scale(0.915,1)" font-size="29.2" font-weight="bold" text-anchor="middle" >4</text>
<line x1="507.90" y1="1460.8" x2="507.90" y2="1477.8" stroke="#000" stroke-width="3"/>
<text transform="translate(507.90,1512.80) scale(0.915,1)" font-size="29.2" font-weight="bold" text-anchor="middle" >5</text>
<line x1="573.04" y1="1460.8" x2="573.04" y2="1477.8" stroke="#000" stroke-width="3"/>
<text transform="translate(573.04,1512.80) scale(0.915,1)" font-size="29.2" font-weight="bold" text-anchor="middle" >6</text>
<line x1="638.18" y1="1460.8" x2="638.18" y2="1477.8" stroke="#000" stroke-width="3"/>
<text transform="translate(638.18,1512.80) scale(0.915,1)" font-size="29.2" font-weight="bold" text-anchor="middle" >7</text>
<line x1="703.32" y1="1460.8" x2="703.32" y2="1477.8" stroke="#000" stroke-width="3"/>
<text transform="translate(703.32,1512.80) scale(0.915,1)" font-size="29.2" font-weight="bold" text-anchor="middle" >8</text>
<line x1="768.46" y1="1460.8" x2="768.46" y2="1477.8" stroke="#000" stroke-width="3"/>
<text transform="translate(768.46,1512.80) scale(0.915,1)" font-size="29.2" font-weight="bold" text-anchor="middle" >9</text>
<line x1="833.60" y1="1460.8" x2="833.60" y2="1477.8" stroke="#000" stroke-width="3"/>
<text transform="translate(833.60,1512.80) scale(0.915,1)" font-size="29.2" font-weight="bold" text-anchor="middle" >10</text>
<rect x="571.0" y="849.7" width="244.3" height="167.9" fill="#fff" stroke="#333" stroke-width="1.5"/>
<text transform="translate(581.00,885.40) scale(0.952,1)" font-size="28.3" font-weight="bold" text-anchor="start" >SAXJ1808.4-3658</text>
<line x1="581.8" y1="908.30" x2="684.7" y2="908.30" stroke="#006633" stroke-width="3.6" stroke-linecap="round"/>
<text transform="translate(695.20,914.90) scale(0.927,1)" font-size="22" font-weight="bold" text-anchor="start" >Model 1</text>
<line x1="581.8" y1="937.40" x2="684.7" y2="937.40" stroke="#0000ff" stroke-width="3.6" stroke-linecap="round"/>
<text transform="translate(695.20,944.00) scale(0.927,1)" font-size="22" font-weight="bold" text-anchor="start" >Model 2</text>
<line x1="581.8" y1="966.50" x2="684.7" y2="966.50" stroke="#996633" stroke-width="3.6" stroke-linecap="round"/>
<text transform="translate(695.20,973.10) scale(0.927,1)" font-size="22" font-weight="bold" text-anchor="start" >Model 3</text>
<line x1="581.8" y1="995.60" x2="684.7" y2="995.60" stroke="#ff0000" stroke-width="3.6" stroke-linecap="round"/>
<text transform="translate(695.20,1002.20) scale(0.927,1)" font-size="22" font-weight="bold" text-anchor="start" >Model 4</text>
<text transform="translate(27.2,1195.7) rotate(-90) scale(0.98,1)" font-size="27.5" font-weight="bold" text-anchor="start"><tspan font-weight="normal" font-size="26">ρ</tspan> (g cm<tspan font-size="21" dy="-7.5">-3</tspan><tspan dy="7.5">)</tspan></text>
<text transform="translate(470.90,1554.70) scale(1.2,1)" font-size="33" font-style="italic" font-weight="normal" stroke="#fff" stroke-width="0.3">r</text>
<text transform="translate(493.00,1554.70) scale(1.0045,1)" font-size="26.4" font-weight="bold" text-anchor="start" >(km)</text>
<path d="M1048.4,1207.6 L1051.1,1207.7 L1053.7,1207.8 L1056.4,1208.0 L1059.0,1208.2 L1061.7,1208.3 L1064.3,1208.6 L1066.9,1208.8 L1069.6,1209.1 L1072.2,1209.3 L1074.8,1209.6 L1077.4,1210.0 L1080.0,1210.3 L1082.6,1210.7 L1085.2,1211.0 L1087.7,1211.4 L1090.3,1211.9 L1092.9,1212.3 L1095.4,1212.8 L1098.0,1213.2 L1100.5,1213.7 L1103.1,1214.2 L1105.6,1214.8 L1108.1,1215.3 L1110.6,1215.9 L1113.1,1216.5 L1115.6,1217.1 L1118.1,1217.7 L1120.6,1218.4 L1123.1,1219.0 L1125.6,1219.7 L1128.1,1220.4 L1130.6,1221.1 L1133.0,1221.8 L1135.5,1222.6 L1138.0,1223.3 L1140.4,1224.1 L1142.8,1224.9 L1145.3,1225.7 L1147.7,1226.5 L1150.1,1227.4 L1152.6,1228.2 L1155.0,1229.1 L1157.4,1230.0 L1159.8,1230.9 L1162.2,1231.8 L1164.6,1232.7 L1167.0,1233.6 L1169.4,1234.6 L1171.8,1235.5 L1174.2,1236.5 L1176.5,1237.5 L1178.9,1238.5 L1181.3,1239.5 L1183.6,1240.6 L1186.0,1241.6 L1188.3,1242.7 L1190.7,1243.7 L1193.0,1244.8 L1195.4,1245.9 L1197.7,1247.0 L1200.0,1248.1 L1202.4,1249.3 L1204.7,1250.4 L1207.0,1251.5 L1209.3,1252.7 L1211.6,1253.9 L1213.9,1255.0 L1216.2,1256.2 L1218.5,1257.4 L1220.8,1258.6 L1223.1,1259.9 L1225.4,1261.1 L1227.7,1262.3 L1230.0,1263.6 L1232.2,1264.8 L1234.5,1266.1 L1236.8,1267.3 L1239.0,1268.6 L1241.3,1269.9 L1243.6,1271.2 L1245.8,1272.5 L1248.1,1273.8 L1250.3,1275.1 L1252.6,1276.5 L1254.8,1277.8 L1257.1,1279.1 L1259.3,1280.5 L1261.5,1281.8 L1263.8,1283.2 L1266.0,1284.5 L1268.2,1285.9 L1270.4,1287.3 L1272.7,1288.7 L1274.9,1290.0 L1277.1,1291.4 L1279.3,1292.8 L1281.5,1294.2 L1283.7,1295.6 L1285.9,1297.0 L1288.1,1298.4 L1290.3,1299.9 L1292.5,1301.3 L1294.7,1302.7 L1296.9,1304.1 L1299.1,1305.6 L1301.3,1307.0 L1303.5,1308.4 L1305.7,1309.9 L1307.9,1311.3 L1310.1,1312.8 L1312.3,1314.2 L1314.4,1315.6 L1316.6,1317.1 L1318.8,1318.5 L1321.0,1320.0 L1323.2,1321.4 L1325.4,1322.9 L1327.5,1324.4 L1329.7,1325.8 L1331.9,1327.3 L1334.1,1328.7 L1336.2,1330.2 L1338.4,1331.6 L1340.6,1333.1 L1342.8,1334.5 L1344.9,1336.0 L1347.1,1337.4 L1349.3,1338.9 L1351.5,1340.3 L1353.6,1341.8 L1355.8,1343.2 L1358.0,1344.7 L1360.2,1346.1 L1362.4,1347.6 L1364.5,1349.0 L1366.7,1350.4 L1368.9,1351.9 L1371.1,1353.3 L1373.3,1354.7 L1375.5,1356.2 L1377.6,1357.6 L1379.8,1359.0 L1382.0,1360.4 L1384.2,1361.8 L1386.4,1363.2 L1388.6,1364.6 L1390.8,1366.0 L1393.0,1367.4 L1395.2,1368.8 L1397.4,1370.2 L1399.6,1371.6 L1401.8,1372.9 L1404.0,1374.3 L1406.2,1375.7 L1408.5,1377.0 L1410.7,1378.4 L1412.9,1379.7 L1415.1,1381.0 L1417.3,1382.4 L1419.6,1383.7 L1421.8,1385.0 L1424.1,1386.3 L1426.3,1387.6 L1428.5,1388.9 L1430.8,1390.2 L1433.0,1391.4 L1435.3,1392.7 L1437.6,1394.0 L1439.8,1395.2 L1442.1,1396.4 L1444.4,1397.7 L1446.6,1398.9 L1448.9,1400.1 L1451.2,1401.3 L1453.5,1402.5 L1455.8,1403.7 L1458.1,1404.9 L1460.4,1406.0 L1462.7,1407.2 L1465.0,1408.3 L1467.3,1409.4 L1469.6,1410.6 L1472.0,1411.7 L1474.3,1412.8 L1476.6,1413.8 L1479.0,1414.9 L1481.3,1416.0 L1483.7,1417.0 L1486.1,1418.1 L1488.4,1419.1 L1490.8,1420.1 L1493.2,1421.1 L1495.6,1422.1 L1498.0,1423.0 L1500.4,1424.0 L1502.8,1425.0 L1505.2,1425.9 L1507.6,1426.8 L1510.0,1427.7 L1512.4,1428.6 L1514.9,1429.5 L1517.3,1430.4 L1519.7,1431.2 L1522.2,1432.1 L1524.6,1432.9 L1527.1,1433.8 L1529.5,1434.6 L1532.0,1435.4 L1534.5,1436.2 L1536.9,1437.0 L1539.4,1437.8 L1541.9,1438.5 L1544.4,1439.3 L1546.9,1440.0 L1549.4,1440.8 L1551.9,1441.5 L1554.4,1442.2 L1556.9,1442.9 L1559.4,1443.6 L1561.9,1444.3 L1564.4,1445.0 L1566.9,1445.7 L1569.4,1446.3 L1572.0,1447.0 L1574.5,1447.6 L1577.0,1448.3 L1579.6,1448.9 L1582.1,1449.5 L1584.6,1450.1 L1587.2,1450.7 L1589.7,1451.3 L1592.3,1451.9 L1594.8,1452.5 L1597.4,1453.1 L1599.9,1453.6 L1602.5,1454.2 L1605.0,1454.7 L1607.6,1455.3 L1610.1,1455.8 L1612.7,1456.3 L1615.3,1456.8 L1617.8,1457.3 L1620.4,1457.8 L1623.0,1458.2 L1625.5,1458.7 L1628.1,1459.1 L1630.7,1459.4 L1633.3,1459.8 L1635.8,1460.1 L1638.4,1460.4 L1641.0,1460.6 L1643.6,1460.8 L1646.1,1461.0 L1648.7,1461.1 L1651.3,1461.1 L1653.9,1461.1 L1656.4,1461.1 L1659.0,1461.1 L1661.6,1461.1" fill="none" stroke="#006633" stroke-width="4" stroke-linecap="round" stroke-linejoin="round"/>
<path d="M1048.4,1127.7 L1051.2,1127.8 L1053.9,1127.9 L1056.7,1128.0 L1059.4,1128.2 L1062.1,1128.4 L1064.8,1128.7 L1067.5,1129.0 L1070.2,1129.3 L1072.9,1129.7 L1075.5,1130.1 L1078.2,1130.5 L1080.8,1131.0 L1083.4,1131.5 L1086.0,1132.0 L1088.6,1132.5 L1091.2,1133.1 L1093.8,1133.8 L1096.3,1134.4 L1098.9,1135.1 L1101.4,1135.8 L1104.0,1136.5 L1106.5,1137.3 L1109.0,1138.1 L1111.5,1138.9 L1114.0,1139.8 L1116.4,1140.7 L1118.9,1141.6 L1121.4,1142.5 L1123.8,1143.5 L1126.2,1144.4 L1128.7,1145.5 L1131.1,1146.5 L1133.5,1147.5 L1135.9,1148.6 L1138.3,1149.7 L1140.7,1150.9 L1143.0,1152.0 L1145.4,1153.2 L1147.7,1154.4 L1150.1,1155.6 L1152.4,1156.8 L1154.8,1158.0 L1157.1,1159.3 L1159.4,1160.6 L1161.7,1161.9 L1164.0,1163.2 L1166.3,1164.6 L1168.5,1165.9 L1170.8,1167.3 L1173.1,1168.7 L1175.3,1170.1 L1177.6,1171.5 L1179.8,1173.0 L1182.0,1174.4 L1184.3,1175.9 L1186.5,1177.4 L1188.7,1178.9 L1190.9,1180.4 L1193.1,1181.9 L1195.3,1183.4 L1197.4,1185.0 L1199.6,1186.5 L1201.8,1188.1 L1204.0,1189.7 L1206.1,1191.2 L1208.3,1192.8 L1210.4,1194.4 L1212.5,1196.0 L1214.7,1197.7 L1216.8,1199.3 L1218.9,1200.9 L1221.0,1202.6 L1223.2,1204.2 L1225.3,1205.8 L1227.4,1207.5 L1229.5,1209.2 L1231.6,1210.8 L1233.6,1212.5 L1235.7,1214.2 L1237.8,1215.9 L1239.9,1217.6 L1241.9,1219.3 L1244.0,1221.0 L1246.1,1222.7 L1248.1,1224.4 L1250.2,1226.1 L1252.2,1227.8 L1254.3,1229.6 L1256.3,1231.3 L1258.3,1233.0 L1260.4,1234.8 L1262.4,1236.5 L1264.4,1238.3 L1266.5,1240.0 L1268.5,1241.8 L1270.5,1243.5 L1272.5,1245.3 L1274.5,1247.0 L1276.6,1248.8 L1278.6,1250.6 L1280.6,1252.4 L1282.6,1254.1 L1284.6,1255.9 L1286.6,1257.7 L1288.6,1259.5 L1290.6,1261.2 L1292.6,1263.0 L1294.6,1264.8 L1296.6,1266.6 L1298.5,1268.4 L1300.5,1270.2 L1302.5,1272.0 L1304.5,1273.8 L1306.5,1275.6 L1308.5,1277.4 L1310.5,1279.1 L1312.5,1280.9 L1314.4,1282.7 L1316.4,1284.5 L1318.4,1286.3 L1320.4,1288.1 L1322.4,1289.9 L1324.4,1291.7 L1326.3,1293.5 L1328.3,1295.3 L1330.3,1297.1 L1332.3,1298.9 L1334.3,1300.7 L1336.3,1302.5 L1338.3,1304.3 L1340.3,1306.0 L1342.2,1307.8 L1344.2,1309.6 L1346.2,1311.4 L1348.2,1313.2 L1350.2,1314.9 L1352.2,1316.7 L1354.2,1318.5 L1356.2,1320.3 L1358.2,1322.0 L1360.2,1323.8 L1362.2,1325.5 L1364.2,1327.3 L1366.2,1329.1 L1368.3,1330.8 L1370.3,1332.6 L1372.3,1334.3 L1374.3,1336.0 L1376.3,1337.8 L1378.4,1339.5 L1380.4,1341.2 L1382.4,1342.9 L1384.5,1344.7 L1386.5,1346.4 L1388.5,1348.1 L1390.6,1349.8 L1392.6,1351.5 L1394.7,1353.2 L1396.8,1354.9 L1398.8,1356.5 L1400.9,1358.2 L1403.0,1359.9 L1405.0,1361.5 L1407.1,1363.2 L1409.2,1364.8 L1411.3,1366.5 L1413.4,1368.1 L1415.5,1369.8 L1417.6,1371.4 L1419.7,1373.0 L1421.8,1374.6 L1423.9,1376.2 L1426.1,1377.8 L1428.2,1379.4 L1430.3,1381.0 L1432.5,1382.5 L1434.6,1384.1 L1436.8,1385.7 L1438.9,1387.2 L1441.1,1388.7 L1443.3,1390.3 L1445.4,1391.8 L1447.6,1393.3 L1449.8,1394.8 L1452.0,1396.3 L1454.2,1397.8 L1456.4,1399.3 L1458.7,1400.7 L1460.9,1402.2 L1463.1,1403.6 L1465.4,1405.1 L1467.6,1406.5 L1469.9,1407.9 L1472.1,1409.3 L1474.4,1410.7 L1476.7,1412.1 L1479.0,1413.5 L1481.3,1414.8 L1483.6,1416.2 L1485.9,1417.5 L1488.2,1418.8 L1490.5,1420.1 L1492.8,1421.4 L1495.2,1422.7 L1497.5,1423.9 L1499.8,1425.2 L1502.2,1426.4 L1504.6,1427.6 L1506.9,1428.8 L1509.3,1430.0 L1511.7,1431.1 L1514.1,1432.3 L1516.5,1433.4 L1518.9,1434.5 L1521.3,1435.6 L1523.7,1436.7 L1526.2,1437.8 L1528.6,1438.8 L1531.0,1439.8 L1533.5,1440.8 L1535.9,1441.8 L1538.4,1442.8 L1540.9,1443.7 L1543.4,1444.7 L1545.8,1445.6 L1548.3,1446.4 L1550.8,1447.3 L1553.3,1448.1 L1555.9,1449.0 L1558.4,1449.8 L1560.9,1450.5 L1563.4,1451.3 L1566.0,1452.0 L1568.5,1452.7 L1571.1,1453.4 L1573.6,1454.0 L1576.2,1454.7 L1578.8,1455.3 L1581.4,1455.8 L1584.0,1456.4 L1586.6,1456.9 L1589.2,1457.4 L1591.8,1457.9 L1594.4,1458.3 L1597.0,1458.7 L1599.7,1459.1 L1602.3,1459.5 L1605.0,1459.8 L1607.6,1460.1 L1610.3,1460.3 L1613.0,1460.5 L1615.7,1460.7 L1618.3,1460.9 L1621.0,1461.0 L1623.7,1461.1 L1626.4,1461.1 L1629.2,1461.1 L1631.9,1461.1 L1634.6,1461.1" fill="none" stroke="#0000ff" stroke-width="4" stroke-linecap="round" stroke-linejoin="round"/>
<path d="M1048.4,1110.1 L1051.2,1110.2 L1054.1,1110.3 L1056.9,1110.5 L1059.7,1110.7 L1062.5,1111.0 L1065.2,1111.3 L1068.0,1111.6 L1070.8,1111.9 L1073.5,1112.3 L1076.2,1112.8 L1078.9,1113.2 L1081.6,1113.7 L1084.3,1114.2 L1087.0,1114.8 L1089.7,1115.4 L1092.3,1116.0 L1094.9,1116.7 L1097.6,1117.3 L1100.2,1118.1 L1102.8,1118.8 L1105.4,1119.6 L1108.0,1120.4 L1110.5,1121.2 L1113.1,1122.1 L1115.6,1123.0 L1118.2,1123.9 L1120.7,1124.9 L1123.2,1125.8 L1125.7,1126.8 L1128.2,1127.9 L1130.7,1128.9 L1133.1,1130.0 L1135.6,1131.1 L1138.0,1132.2 L1140.5,1133.4 L1142.9,1134.5 L1145.3,1135.7 L1147.7,1136.9 L1150.1,1138.2 L1152.5,1139.5 L1154.9,1140.7 L1157.3,1142.0 L1159.7,1143.4 L1162.0,1144.7 L1164.4,1146.1 L1166.7,1147.5 L1169.0,1148.9 L1171.3,1150.3 L1173.6,1151.7 L1175.9,1153.2 L1178.2,1154.6 L1180.5,1156.1 L1182.8,1157.6 L1185.1,1159.2 L1187.3,1160.7 L1189.6,1162.2 L1191.8,1163.8 L1194.1,1165.4 L1196.3,1167.0 L1198.5,1168.6 L1200.7,1170.2 L1202.9,1171.8 L1205.1,1173.5 L1207.3,1175.1 L1209.5,1176.8 L1211.7,1178.5 L1213.9,1180.2 L1216.0,1181.9 L1218.2,1183.6 L1220.3,1185.3 L1222.5,1187.0 L1224.6,1188.7 L1226.8,1190.5 L1228.9,1192.2 L1231.0,1194.0 L1233.1,1195.7 L1235.2,1197.5 L1237.3,1199.3 L1239.4,1201.0 L1241.5,1202.8 L1243.6,1204.6 L1245.7,1206.4 L1247.8,1208.2 L1249.9,1210.0 L1251.9,1211.8 L1254.0,1213.6 L1256.1,1215.4 L1258.1,1217.2 L1260.2,1219.0 L1262.2,1220.8 L1264.3,1222.7 L1266.3,1224.5 L1268.3,1226.3 L1270.4,1228.1 L1272.4,1230.0 L1274.4,1231.8 L1276.4,1233.7 L1278.5,1235.5 L1280.5,1237.4 L1282.5,1239.2 L1284.5,1241.1 L1286.5,1242.9 L1288.5,1244.8 L1290.5,1246.6 L1292.5,1248.5 L1294.5,1250.4 L1296.5,1252.2 L1298.5,1254.1 L1300.5,1256.0 L1302.5,1257.8 L1304.5,1259.7 L1306.5,1261.6 L1308.5,1263.4 L1310.5,1265.3 L1312.5,1267.2 L1314.5,1269.1 L1316.5,1270.9 L1318.4,1272.8 L1320.4,1274.7 L1322.4,1276.6 L1324.4,1278.5 L1326.4,1280.3 L1328.4,1282.2 L1330.4,1284.1 L1332.4,1286.0 L1334.3,1287.9 L1336.3,1289.7 L1338.3,1291.6 L1340.3,1293.5 L1342.3,1295.4 L1344.3,1297.3 L1346.3,1299.1 L1348.3,1301.0 L1350.3,1302.9 L1352.3,1304.8 L1354.3,1306.6 L1356.3,1308.5 L1358.3,1310.4 L1360.3,1312.2 L1362.3,1314.1 L1364.3,1315.9 L1366.3,1317.8 L1368.4,1319.7 L1370.4,1321.5 L1372.4,1323.4 L1374.4,1325.2 L1376.5,1327.0 L1378.5,1328.9 L1380.5,1330.7 L1382.6,1332.5 L1384.6,1334.3 L1386.7,1336.2 L1388.7,1338.0 L1390.8,1339.8 L1392.8,1341.6 L1394.9,1343.4 L1397.0,1345.2 L1399.0,1346.9 L1401.1,1348.7 L1403.2,1350.5 L1405.3,1352.2 L1407.4,1354.0 L1409.5,1355.7 L1411.6,1357.5 L1413.7,1359.2 L1415.8,1360.9 L1417.9,1362.7 L1420.1,1364.4 L1422.2,1366.1 L1424.3,1367.7 L1426.5,1369.4 L1428.6,1371.1 L1430.8,1372.8 L1433.0,1374.4 L1435.2,1376.0 L1437.3,1377.7 L1439.5,1379.3 L1441.7,1380.9 L1443.9,1382.5 L1446.1,1384.1 L1448.3,1385.7 L1450.6,1387.2 L1452.8,1388.8 L1455.0,1390.3 L1457.3,1391.8 L1459.6,1393.4 L1461.8,1394.9 L1464.1,1396.4 L1466.4,1397.8 L1468.7,1399.3 L1471.0,1400.7 L1473.3,1402.2 L1475.6,1403.6 L1477.9,1405.0 L1480.3,1406.4 L1482.6,1407.8 L1485.0,1409.2 L1487.3,1410.5 L1489.7,1411.9 L1492.1,1413.2 L1494.5,1414.5 L1496.9,1415.8 L1499.3,1417.1 L1501.7,1418.3 L1504.1,1419.6 L1506.5,1420.8 L1508.9,1422.1 L1511.4,1423.3 L1513.8,1424.5 L1516.3,1425.6 L1518.8,1426.8 L1521.2,1428.0 L1523.7,1429.1 L1526.2,1430.2 L1528.7,1431.3 L1531.2,1432.4 L1533.7,1433.5 L1536.2,1434.5 L1538.7,1435.6 L1541.3,1436.6 L1543.8,1437.6 L1546.3,1438.6 L1548.9,1439.6 L1551.4,1440.5 L1554.0,1441.5 L1556.6,1442.4 L1559.1,1443.3 L1561.7,1444.2 L1564.3,1445.1 L1566.9,1446.0 L1569.5,1446.8 L1572.1,1447.7 L1574.7,1448.5 L1577.3,1449.2 L1580.0,1450.0 L1582.6,1450.8 L1585.2,1451.5 L1587.9,1452.2 L1590.5,1452.9 L1593.2,1453.6 L1595.8,1454.2 L1598.5,1454.8 L1601.1,1455.4 L1603.8,1456.0 L1606.5,1456.5 L1609.2,1457.0 L1611.9,1457.5 L1614.6,1458.0 L1617.3,1458.4 L1620.0,1458.8 L1622.7,1459.2 L1625.4,1459.5 L1628.1,1459.9 L1630.8,1460.1 L1633.6,1460.4 L1636.3,1460.6 L1639.0,1460.8 L1641.8,1461.0 L1644.5,1461.1" fill="none" stroke="#996633" stroke-width="4" stroke-linecap="round" stroke-linejoin="round"/>
<path d="M1048.4,899.9 L1051.9,899.7 L1055.3,899.7 L1058.7,899.8 L1062.0,900.0 L1065.2,900.3 L1068.5,900.7 L1071.6,901.2 L1074.8,901.9 L1077.9,902.6 L1080.9,903.4 L1083.9,904.4 L1086.9,905.4 L1089.8,906.5 L1092.7,907.8 L1095.5,909.0 L1098.3,910.4 L1101.1,911.9 L1103.8,913.4 L1106.5,915.0 L1109.2,916.7 L1111.8,918.4 L1114.4,920.2 L1117.0,922.0 L1119.5,923.9 L1122.1,925.9 L1124.5,927.9 L1127.0,929.9 L1129.4,932.0 L1131.9,934.1 L1134.2,936.3 L1136.6,938.5 L1139.0,940.7 L1141.3,942.9 L1143.6,945.2 L1145.9,947.5 L1148.1,949.8 L1150.4,952.1 L1152.6,954.4 L1154.9,956.8 L1157.1,959.1 L1159.3,961.5 L1161.4,963.9 L1163.6,966.3 L1165.7,968.7 L1167.9,971.1 L1170.0,973.5 L1172.1,975.9 L1174.2,978.4 L1176.3,980.8 L1178.3,983.3 L1180.4,985.8 L1182.4,988.2 L1184.4,990.7 L1186.4,993.2 L1188.4,995.7 L1190.4,998.3 L1192.4,1000.8 L1194.4,1003.3 L1196.3,1005.9 L1198.3,1008.4 L1200.2,1011.0 L1202.1,1013.6 L1204.0,1016.1 L1205.9,1018.7 L1207.8,1021.3 L1209.7,1023.9 L1211.5,1026.5 L1213.4,1029.1 L1215.2,1031.7 L1217.1,1034.4 L1218.9,1037.0 L1220.7,1039.6 L1222.6,1042.3 L1224.4,1044.9 L1226.2,1047.6 L1228.0,1050.2 L1229.7,1052.9 L1231.5,1055.5 L1233.3,1058.2 L1235.0,1060.9 L1236.8,1063.6 L1238.6,1066.2 L1240.3,1068.9 L1242.0,1071.6 L1243.8,1074.3 L1245.5,1077.0 L1247.2,1079.7 L1248.9,1082.4 L1250.6,1085.1 L1252.4,1087.8 L1254.1,1090.5 L1255.8,1093.2 L1257.5,1095.9 L1259.1,1098.7 L1260.8,1101.4 L1262.5,1104.1 L1264.2,1106.8 L1265.9,1109.5 L1267.6,1112.2 L1269.2,1115.0 L1270.9,1117.7 L1272.6,1120.4 L1274.2,1123.1 L1275.9,1125.8 L1277.6,1128.6 L1279.2,1131.3 L1280.9,1134.0 L1282.5,1136.7 L1284.2,1139.4 L1285.8,1142.2 L1287.5,1144.9 L1289.2,1147.6 L1290.8,1150.3 L1292.5,1153.1 L1294.1,1155.8 L1295.8,1158.5 L1297.4,1161.2 L1299.1,1164.0 L1300.7,1166.7 L1302.4,1169.4 L1304.0,1172.1 L1305.7,1174.9 L1307.3,1177.6 L1309.0,1180.3 L1310.6,1183.0 L1312.3,1185.8 L1314.0,1188.5 L1315.6,1191.2 L1317.3,1193.9 L1318.9,1196.6 L1320.6,1199.4 L1322.3,1202.1 L1323.9,1204.8 L1325.6,1207.5 L1327.3,1210.2 L1329.0,1212.9 L1330.7,1215.6 L1332.3,1218.3 L1334.0,1221.1 L1335.7,1223.8 L1337.4,1226.5 L1339.1,1229.2 L1340.8,1231.9 L1342.5,1234.6 L1344.2,1237.3 L1345.9,1240.0 L1347.7,1242.7 L1349.4,1245.4 L1351.1,1248.1 L1352.8,1250.8 L1354.6,1253.5 L1356.3,1256.1 L1358.1,1258.8 L1359.8,1261.5 L1361.6,1264.2 L1363.4,1266.9 L1365.1,1269.5 L1366.9,1272.2 L1368.7,1274.9 L1370.5,1277.6 L1372.3,1280.2 L1374.1,1282.9 L1375.9,1285.6 L1377.7,1288.2 L1379.5,1290.9 L1381.4,1293.5 L1383.2,1296.2 L1385.1,1298.8 L1386.9,1301.5 L1388.8,1304.1 L1390.6,1306.8 L1392.5,1309.4 L1394.4,1312.0 L1396.3,1314.6 L1398.2,1317.3 L1400.1,1319.9 L1402.1,1322.5 L1404.0,1325.1 L1405.9,1327.7 L1407.9,1330.2 L1409.9,1332.8 L1411.9,1335.3 L1413.9,1337.9 L1415.9,1340.4 L1417.9,1342.9 L1419.9,1345.5 L1422.0,1347.9 L1424.0,1350.4 L1426.1,1352.9 L1428.2,1355.3 L1430.3,1357.8 L1432.4,1360.2 L1434.5,1362.6 L1436.7,1365.0 L1438.8,1367.3 L1441.0,1369.7 L1443.2,1372.0 L1445.4,1374.3 L1447.6,1376.6 L1449.9,1378.9 L1452.1,1381.1 L1454.4,1383.3 L1456.7,1385.5 L1459.0,1387.7 L1461.3,1389.8 L1463.7,1392.0 L1466.0,1394.1 L1468.4,1396.1 L1470.8,1398.2 L1473.3,1400.2 L1475.7,1402.2 L1478.2,1404.1 L1480.7,1406.1 L1483.2,1408.0 L1485.7,1409.8 L1488.3,1411.7 L1490.9,1413.5 L1493.4,1415.2 L1496.1,1417.0 L1498.7,1418.7 L1501.4,1420.4 L1504.1,1422.0 L1506.8,1423.6 L1509.5,1425.2 L1512.3,1426.8 L1515.0,1428.3 L1517.8,1429.9 L1520.6,1431.4 L1523.4,1432.9 L1526.2,1434.4 L1529.1,1435.9 L1531.9,1437.4 L1534.8,1438.9 L1537.7,1440.4 L1540.6,1441.9 L1543.4,1443.4 L1546.3,1444.9 L1549.2,1446.4 L1552.2,1447.9 L1555.1,1449.4 L1558.0,1450.8 L1561.0,1452.2 L1563.9,1453.5 L1566.9,1454.8 L1569.9,1455.9 L1572.9,1457.0 L1575.9,1458.0 L1578.9,1458.9 L1582.0,1459.7 L1585.0,1460.4 L1588.1,1460.9 L1591.2,1461.1 L1594.3,1461.1 L1597.5,1461.1 L1600.6,1461.1 L1603.8,1461.1 L1607.0,1461.1 L1610.2,1461.1 L1613.5,1461.1" fill="none" stroke="#ff0000" stroke-width="4" stroke-linecap="round" stroke-linejoin="round"/>
<rect x="1048.4" y="809.7" width="651.20" height="651.10" fill="none" stroke="#000" stroke-width="3"/>
<line x1="1031.4" y1="1460.80" x2="1048.4" y2="1460.80" stroke="#000" stroke-width="3"/>
<text transform="translate(1020.80,1470.60) scale(0.915,1)" font-size="29.2" font-weight="bold" text-anchor="end" >0</text>
<line x1="1031.4" y1="1395.69" x2="1048.4" y2="1395.69" stroke="#000" stroke-width="3"/>
<text transform="translate(1020.80,1405.49) scale(0.915,1)" font-size="29.2" font-weight="bold" text-anchor="end" >2.5E+034</text>
<line x1="1031.4" y1="1330.58" x2="1048.4" y2="1330.58" stroke="#000" stroke-width="3"/>
<text transform="translate(1020.80,1340.38) scale(0.915,1)" font-size="29.2" font-weight="bold" text-anchor="end" >5E+034</text>
<line x1="1031.4" y1="1265.47" x2="1048.4" y2="1265.47" stroke="#000" stroke-width="3"/>
<text transform="translate(1020.80,1275.27) scale(0.915,1)" font-size="29.2" font-weight="bold" text-anchor="end" >7.5E+034</text>
<line x1="1031.4" y1="1200.36" x2="1048.4" y2="1200.36" stroke="#000" stroke-width="3"/>
<text transform="translate(1020.80,1210.16) scale(0.915,1)" font-size="29.2" font-weight="bold" text-anchor="end" >1E+035</text>
<line x1="1031.4" y1="1135.25" x2="1048.4" y2="1135.25" stroke="#000" stroke-width="3"/>
<text transform="translate(1020.80,1145.05) scale(0.915,1)" font-size="29.2" font-weight="bold" text-anchor="end" >1.25E+035</text>
<line x1="1031.4" y1="1070.14" x2="1048.4" y2="1070.14" stroke="#000" stroke-width="3"/>
<text transform="translate(1020.80,1079.94) scale(0.915,1)" font-size="29.2" font-weight="bold" text-anchor="end" >1.5E+035</text>
<line x1="1031.4" y1="1005.03" x2="1048.4" y2="1005.03" stroke="#000" stroke-width="3"/>
<text transform="translate(1020.80,1014.83) scale(0.915,1)" font-size="29.2" font-weight="bold" text-anchor="end" >1.75E+035</text>
<line x1="1031.4" y1="939.92" x2="1048.4" y2="939.92" stroke="#000" stroke-width="3"/>
<text transform="translate(1020.80,949.72) scale(0.915,1)" font-size="29.2" font-weight="bold" text-anchor="end" >2E+035</text>
<line x1="1031.4" y1="874.81" x2="1048.4" y2="874.81" stroke="#000" stroke-width="3"/>
<text transform="translate(1020.80,884.61) scale(0.915,1)" font-size="29.2" font-weight="bold" text-anchor="end" >2.25E+035</text>
<line x1="1031.4" y1="809.70" x2="1048.4" y2="809.70" stroke="#000" stroke-width="3"/>
<text transform="translate(1020.80,819.50) scale(0.915,1)" font-size="29.2" font-weight="bold" text-anchor="end" >2.5E+035</text>
<line x1="1048.40" y1="1460.8" x2="1048.40" y2="1477.8" stroke="#000" stroke-width="3"/>
<text transform="translate(1048.40,1512.80) scale(0.915,1)" font-size="29.2" font-weight="bold" text-anchor="middle" >0</text>
<line x1="1113.52" y1="1460.8" x2="1113.52" y2="1477.8" stroke="#000" stroke-width="3"/>
<text transform="translate(1113.52,1512.80) scale(0.915,1)" font-size="29.2" font-weight="bold" text-anchor="middle" >1</text>
<line x1="1178.64" y1="1460.8" x2="1178.64" y2="1477.8" stroke="#000" stroke-width="3"/>
<text transform="translate(1178.64,1512.80) scale(0.915,1)" font-size="29.2" font-weight="bold" text-anchor="middle" >2</text>
<line x1="1243.76" y1="1460.8" x2="1243.76" y2="1477.8" stroke="#000" stroke-width="3"/>
<text transform="translate(1243.76,1512.80) scale(0.915,1)" font-size="29.2" font-weight="bold" text-anchor="middle" >3</text>
<line x1="1308.88" y1="1460.8" x2="1308.88" y2="1477.8" stroke="#000" stroke-width="3"/>
<text transform="translate(1308.88,1512.80) scale(0.915,1)" font-size="29.2" font-weight="bold" text-anchor="middle" >4</text>
<line x1="1374.00" y1="1460.8" x2="1374.00" y2="1477.8" stroke="#000" stroke-width="3"/>
<text transform="translate(1374.00,1512.80) scale(0.915,1)" font-size="29.2" font-weight="bold" text-anchor="middle" >5</text>
<line x1="1439.12" y1="1460.8" x2="1439.12" y2="1477.8" stroke="#000" stroke-width="3"/>
<text transform="translate(1439.12,1512.80) scale(0.915,1)" font-size="29.2" font-weight="bold" text-anchor="middle" >6</text>
<line x1="1504.24" y1="1460.8" x2="1504.24" y2="1477.8" stroke="#000" stroke-width="3"/>
<text transform="translate(1504.24,1512.80) scale(0.915,1)" font-size="29.2" font-weight="bold" text-anchor="middle" >7</text>
<line x1="1569.36" y1="1460.8" x2="1569.36" y2="1477.8" stroke="#000" stroke-width="3"/>
<text transform="translate(1569.36,1512.80) scale(0.915,1)" font-size="29.2" font-weight="bold" text-anchor="middle" >8</text>
<line x1="1634.48" y1="1460.8" x2="1634.48" y2="1477.8" stroke="#000" stroke-width="3"/>
<text transform="translate(1634.48,1512.80) scale(0.915,1)" font-size="29.2" font-weight="bold" text-anchor="middle" >9</text>
<line x1="1699.60" y1="1460.8" x2="1699.60" y2="1477.8" stroke="#000" stroke-width="3"/>
<text transform="translate(1699.60,1512.80) scale(0.915,1)" font-size="29.2" font-weight="bold" text-anchor="middle" >10</text>
<rect x="1436.9" y="849.7" width="244.3" height="167.9" fill="#fff" stroke="#333" stroke-width="1.5"/>
<text transform="translate(1446.90,885.40) scale(0.952,1)" font-size="28.3" font-weight="bold" text-anchor="start" >SAXJ1808.4-3658</text>
<line x1="1447.7" y1="908.30" x2="1550.6000000000001" y2="908.30" stroke="#006633" stroke-width="3.6" stroke-linecap="round"/>
<text transform="translate(1561.10,914.90) scale(0.927,1)" font-size="22" font-weight="bold" text-anchor="start" >Model 1</text>
<line x1="1447.7" y1="937.40" x2="1550.6000000000001" y2="937.40" stroke="#0000ff" stroke-width="3.6" stroke-linecap="round"/>
<text transform="translate(1561.10,944.00) scale(0.927,1)" font-size="22" font-weight="bold" text-anchor="start" >Model 2</text>
<line x1="1447.7" y1="966.50" x2="1550.6000000000001" y2="966.50" stroke="#996633" stroke-width="3.6" stroke-linecap="round"/>
<text transform="translate(1561.10,973.10) scale(0.927,1)" font-size="22" font-weight="bold" text-anchor="start" >Model 3</text>
<line x1="1447.7" y1="995.60" x2="1550.6000000000001" y2="995.60" stroke="#ff0000" stroke-width="3.6" stroke-linecap="round"/>
<text transform="translate(1561.10,1002.20) scale(0.927,1)" font-size="22" font-weight="bold" text-anchor="start" >Model 4</text>
<text transform="translate(877.8,1220.0) rotate(-90) scale(0.98,1)" font-size="27.5" font-weight="bold" text-anchor="start"><tspan font-style="italic">P</tspan> (dyne cm<tspan font-size="21" dy="-7.5">-2</tspan><tspan dy="7.5">)</tspan></text>
<text transform="translate(1336.80,1556.60) scale(1.2,1)" font-size="33" font-style="italic" font-weight="normal" stroke="#fff" stroke-width="0.3">r</text>
<text transform="translate(1358.90,1554.70) scale(1.0100805555555554,1)" font-size="26.4" font-weight="bold" text-anchor="start" >(km)</text>
<path d="M152.5,2260.8 L155.9,2260.7 L159.3,2260.6 L162.7,2260.5 L166.2,2260.5 L169.6,2260.4 L173.0,2260.4 L176.4,2260.3 L179.8,2260.3 L183.2,2260.2 L186.6,2260.2 L190.1,2260.1 L193.5,2260.1 L196.9,2260.0 L200.3,2259.9 L203.7,2259.8 L207.1,2259.7 L210.5,2259.5 L213.9,2259.4 L217.2,2259.2 L220.6,2259.0 L224.0,2258.7 L227.4,2258.4 L230.7,2258.1 L234.1,2257.8 L237.5,2257.4 L240.8,2257.0 L244.1,2256.5 L247.5,2256.0 L250.8,2255.4 L254.1,2254.8 L257.4,2254.1 L260.7,2253.4 L264.0,2252.7 L267.3,2251.9 L270.6,2251.0 L273.9,2250.1 L277.1,2249.2 L280.4,2248.2 L283.6,2247.2 L286.8,2246.1 L290.0,2245.0 L293.2,2243.9 L296.4,2242.7 L299.6,2241.5 L302.8,2240.3 L305.9,2239.0 L309.0,2237.6 L312.2,2236.3 L315.3,2234.9 L318.4,2233.4 L321.4,2231.9 L324.5,2230.4 L327.6,2228.9 L330.6,2227.3 L333.6,2225.7 L336.6,2224.1 L339.6,2222.4 L342.6,2220.7 L345.5,2219.0 L348.5,2217.2 L351.4,2215.5 L354.3,2213.7 L357.1,2211.8 L360.0,2210.0 L362.9,2208.1 L365.7,2206.2 L368.5,2204.2 L371.3,2202.3 L374.0,2200.3 L376.8,2198.3 L379.5,2196.2 L382.2,2194.2 L384.9,2192.1 L387.5,2190.0 L390.2,2187.9 L392.8,2185.8 L395.4,2183.6 L398.0,2181.4 L400.5,2179.2 L403.1,2177.0 L405.6,2174.8 L408.1,2172.5 L410.6,2170.3 L413.1,2168.0 L415.5,2165.7 L417.9,2163.3 L420.4,2161.0 L422.8,2158.6 L425.2,2156.3 L427.5,2153.9 L429.9,2151.4 L432.2,2149.0 L434.6,2146.6 L436.9,2144.1 L439.2,2141.7 L441.5,2139.2 L443.7,2136.7 L446.0,2134.2 L448.2,2131.6 L450.4,2129.1 L452.7,2126.5 L454.9,2124.0 L457.1,2121.4 L459.2,2118.8 L461.4,2116.2 L463.5,2113.6 L465.7,2110.9 L467.8,2108.3 L469.9,2105.7 L472.1,2103.0 L474.1,2100.3 L476.2,2097.7 L478.3,2095.0 L480.4,2092.3 L482.4,2089.6 L484.5,2086.8 L486.5,2084.1 L488.6,2081.4 L490.6,2078.6 L492.6,2075.9 L494.6,2073.1 L496.6,2070.4 L498.6,2067.6 L500.6,2064.8 L502.6,2062.0 L504.5,2059.3 L506.5,2056.5 L508.5,2053.7 L510.4,2050.9 L512.4,2048.1 L514.3,2045.2 L516.3,2042.4 L518.2,2039.6 L520.1,2036.8 L522.0,2034.0 L524.0,2031.1 L525.9,2028.3 L527.8,2025.5 L529.7,2022.6 L531.6,2019.8 L533.5,2017.0 L535.4,2014.1 L537.3,2011.3 L539.2,2008.4 L541.1,2005.6 L543.0,2002.8 L544.9,1999.9 L546.8,1997.1 L548.7,1994.2 L550.6,1991.4 L552.5,1988.6 L554.4,1985.7 L556.3,1982.9 L558.2,1980.1 L560.0,1977.2 L561.9,1974.4 L563.8,1971.6 L565.7,1968.7 L567.6,1965.9 L569.5,1963.1 L571.4,1960.3 L573.3,1957.4 L575.2,1954.6 L577.1,1951.8 L579.0,1949.0 L580.9,1946.2 L582.8,1943.3 L584.7,1940.5 L586.6,1937.7 L588.5,1934.9 L590.4,1932.1 L592.3,1929.3 L594.2,1926.5 L596.1,1923.7 L598.0,1920.9 L599.9,1918.1 L601.8,1915.3 L603.7,1912.5 L605.6,1909.7 L607.6,1906.9 L609.5,1904.1 L611.4,1901.4 L613.4,1898.6 L615.3,1895.8 L617.2,1893.0 L619.2,1890.3 L621.1,1887.5 L623.0,1884.7 L625.0,1882.0 L627.0,1879.2 L628.9,1876.4 L630.9,1873.7 L632.8,1870.9 L634.8,1868.2 L636.8,1865.5 L638.8,1862.7 L640.7,1860.0 L642.7,1857.2 L644.7,1854.5 L646.7,1851.8 L648.7,1849.1 L650.7,1846.3 L652.7,1843.6 L654.7,1840.9 L656.8,1838.2 L658.8,1835.5 L660.8,1832.8 L662.9,1830.1 L664.9,1827.4 L666.9,1824.7 L669.0,1822.0 L671.1,1819.3 L673.1,1816.7 L675.2,1814.0 L677.3,1811.3 L679.4,1808.7 L681.5,1806.0 L683.6,1803.3 L685.7,1800.7 L687.8,1798.0 L689.9,1795.4 L692.0,1792.8 L694.2,1790.1 L696.3,1787.5 L698.4,1784.9 L700.6,1782.3 L702.8,1779.7 L704.9,1777.0 L707.1,1774.4 L709.3,1771.8 L711.5,1769.2 L713.7,1766.7 L715.9,1764.1 L718.1,1761.5 L720.3,1758.9 L722.5,1756.3 L724.6,1753.7 L726.8,1751.1 L729.0,1748.4 L731.2,1745.8 L733.3,1743.2 L735.4,1740.5 L737.5,1737.9 L739.6,1735.2 L741.7,1732.5 L743.8,1729.8 L745.8,1727.1 L747.8,1724.4 L749.8,1721.6 L751.7,1718.8 L753.6,1716.0 L755.5,1713.2 L757.3,1710.3 L759.1,1707.5 L760.9,1704.6 L762.6,1701.6 L764.3,1698.6 L765.9,1695.6 L767.5,1692.6" fill="none" stroke="#006633" stroke-width="4" stroke-linecap="round" stroke-linejoin="round"/>
<path d="M152.5,2260.8 L155.9,2260.8 L159.3,2260.8 L162.6,2260.8 L166.0,2260.8 L169.4,2260.8 L172.8,2260.8 L176.2,2260.8 L179.6,2260.8 L182.9,2260.8 L186.3,2260.8 L189.7,2260.8 L193.1,2260.8 L196.4,2260.8 L199.8,2260.8 L203.2,2260.5 L206.5,2260.2 L209.9,2259.9 L213.2,2259.5 L216.6,2259.1 L219.9,2258.7 L223.2,2258.2 L226.6,2257.7 L229.9,2257.1 L233.2,2256.6 L236.5,2255.9 L239.8,2255.3 L243.1,2254.6 L246.4,2253.9 L249.6,2253.1 L252.9,2252.3 L256.2,2251.4 L259.4,2250.6 L262.6,2249.6 L265.9,2248.7 L269.1,2247.7 L272.3,2246.7 L275.5,2245.6 L278.6,2244.5 L281.8,2243.4 L285.0,2242.2 L288.1,2241.0 L291.2,2239.8 L294.4,2238.5 L297.5,2237.2 L300.5,2235.9 L303.6,2234.5 L306.7,2233.1 L309.7,2231.7 L312.7,2230.2 L315.7,2228.8 L318.7,2227.2 L321.7,2225.7 L324.7,2224.1 L327.6,2222.4 L330.5,2220.8 L333.4,2219.1 L336.3,2217.4 L339.2,2215.6 L342.1,2213.9 L344.9,2212.1 L347.7,2210.2 L350.5,2208.4 L353.2,2206.5 L356.0,2204.5 L358.7,2202.6 L361.4,2200.6 L364.1,2198.6 L366.8,2196.6 L369.4,2194.5 L372.0,2192.4 L374.6,2190.3 L377.2,2188.1 L379.7,2186.0 L382.3,2183.8 L384.8,2181.5 L387.3,2179.3 L389.7,2177.0 L392.2,2174.7 L394.6,2172.4 L397.0,2170.1 L399.4,2167.7 L401.8,2165.4 L404.2,2163.0 L406.5,2160.5 L408.8,2158.1 L411.1,2155.7 L413.4,2153.2 L415.7,2150.7 L418.0,2148.2 L420.2,2145.6 L422.4,2143.1 L424.6,2140.5 L426.8,2138.0 L429.0,2135.4 L431.2,2132.8 L433.3,2130.2 L435.4,2127.5 L437.6,2124.9 L439.7,2122.2 L441.7,2119.6 L443.8,2116.9 L445.9,2114.2 L447.9,2111.5 L450.0,2108.8 L452.0,2106.0 L454.0,2103.3 L456.0,2100.6 L458.0,2097.8 L460.0,2095.1 L462.0,2092.3 L464.0,2089.5 L465.9,2086.8 L467.8,2084.0 L469.8,2081.2 L471.7,2078.4 L473.6,2075.6 L475.5,2072.8 L477.4,2070.0 L479.3,2067.2 L481.2,2064.4 L483.1,2061.6 L484.9,2058.8 L486.8,2056.0 L488.6,2053.2 L490.5,2050.4 L492.3,2047.5 L494.2,2044.7 L496.0,2041.9 L497.8,2039.1 L499.6,2036.2 L501.4,2033.4 L503.2,2030.6 L505.0,2027.7 L506.8,2024.9 L508.6,2022.1 L510.4,2019.2 L512.2,2016.4 L514.0,2013.5 L515.8,2010.7 L517.6,2007.9 L519.3,2005.0 L521.1,2002.2 L522.9,1999.3 L524.7,1996.5 L526.4,1993.6 L528.2,1990.8 L530.0,1987.9 L531.7,1985.1 L533.5,1982.2 L535.3,1979.4 L537.0,1976.5 L538.8,1973.7 L540.6,1970.8 L542.3,1968.0 L544.1,1965.1 L545.9,1962.3 L547.7,1959.4 L549.4,1956.6 L551.2,1953.7 L553.0,1950.9 L554.7,1948.1 L556.5,1945.2 L558.3,1942.4 L560.1,1939.5 L561.8,1936.7 L563.6,1933.8 L565.4,1931.0 L567.2,1928.2 L569.0,1925.3 L570.7,1922.5 L572.5,1919.6 L574.3,1916.8 L576.1,1914.0 L577.9,1911.2 L579.7,1908.3 L581.5,1905.5 L583.3,1902.7 L585.1,1899.9 L587.0,1897.0 L588.8,1894.2 L590.6,1891.4 L592.4,1888.6 L594.3,1885.8 L596.1,1883.0 L597.9,1880.2 L599.8,1877.4 L601.6,1874.6 L603.5,1871.8 L605.3,1869.0 L607.2,1866.2 L609.1,1863.4 L610.9,1860.6 L612.8,1857.8 L614.7,1855.0 L616.6,1852.3 L618.5,1849.5 L620.4,1846.7 L622.3,1844.0 L624.2,1841.2 L626.1,1838.4 L628.1,1835.7 L630.0,1832.9 L632.0,1830.2 L633.9,1827.5 L635.9,1824.7 L637.8,1822.0 L639.8,1819.3 L641.8,1816.5 L643.8,1813.8 L645.8,1811.1 L647.8,1808.4 L649.8,1805.7 L651.8,1803.0 L653.8,1800.3 L655.9,1797.6 L657.9,1794.9 L660.0,1792.2 L662.0,1789.6 L664.1,1786.9 L666.2,1784.2 L668.3,1781.6 L670.4,1778.9 L672.5,1776.3 L674.6,1773.6 L676.8,1771.0 L678.9,1768.4 L681.0,1765.7 L683.2,1763.1 L685.3,1760.5 L687.5,1757.9 L689.6,1755.2 L691.8,1752.6 L693.9,1750.0 L696.1,1747.4 L698.2,1744.7 L700.3,1742.1 L702.4,1739.4 L704.5,1736.8 L706.6,1734.1 L708.7,1731.5 L710.7,1728.8 L712.8,1726.1 L714.8,1723.4 L716.8,1720.7 L718.7,1718.0 L720.7,1715.3 L722.6,1712.5 L724.5,1709.7 L726.3,1707.0 L728.1,1704.2 L729.9,1701.4 L731.7,1698.5 L733.4,1695.7 L735.1,1692.8 L736.7,1689.9 L738.3,1687.0 L739.8,1684.1 L741.3,1681.1 L742.8,1678.1" fill="none" stroke="#0000ff" stroke-width="4" stroke-linecap="round" stroke-linejoin="round"/>
<path d="M152.5,2260.8 L156.0,2260.8 L159.5,2260.8 L163.0,2260.8 L166.4,2260.8 L169.9,2260.8 L173.4,2260.8 L176.9,2260.8 L180.4,2260.8 L183.8,2260.8 L187.3,2260.8 L190.8,2260.8 L194.2,2260.8 L197.7,2260.7 L201.1,2260.5 L204.6,2260.2 L208.0,2259.9 L211.5,2259.6 L214.9,2259.3 L218.3,2258.9 L221.7,2258.5 L225.1,2258.0 L228.5,2257.5 L231.9,2257.0 L235.3,2256.4 L238.7,2255.8 L242.1,2255.1 L245.4,2254.4 L248.8,2253.7 L252.1,2252.9 L255.4,2252.1 L258.7,2251.2 L262.1,2250.3 L265.3,2249.3 L268.6,2248.3 L271.9,2247.3 L275.2,2246.2 L278.4,2245.1 L281.6,2244.0 L284.8,2242.8 L288.0,2241.6 L291.2,2240.3 L294.4,2239.0 L297.6,2237.7 L300.7,2236.3 L303.8,2234.9 L306.9,2233.4 L310.0,2231.9 L313.1,2230.4 L316.2,2228.8 L319.2,2227.2 L322.2,2225.6 L325.2,2224.0 L328.2,2222.3 L331.2,2220.5 L334.1,2218.7 L337.1,2216.9 L340.0,2215.1 L342.9,2213.2 L345.7,2211.3 L348.6,2209.4 L351.4,2207.4 L354.2,2205.4 L357.0,2203.4 L359.7,2201.4 L362.5,2199.3 L365.2,2197.1 L367.9,2195.0 L370.5,2192.8 L373.2,2190.6 L375.8,2188.4 L378.4,2186.1 L381.0,2183.8 L383.5,2181.5 L386.1,2179.2 L388.6,2176.8 L391.1,2174.4 L393.5,2172.0 L396.0,2169.6 L398.4,2167.1 L400.8,2164.6 L403.2,2162.1 L405.6,2159.6 L408.0,2157.1 L410.3,2154.5 L412.7,2151.9 L415.0,2149.3 L417.2,2146.7 L419.5,2144.1 L421.8,2141.5 L424.0,2138.8 L426.2,2136.1 L428.5,2133.4 L430.6,2130.7 L432.8,2128.0 L435.0,2125.3 L437.1,2122.5 L439.3,2119.8 L441.4,2117.0 L443.5,2114.3 L445.6,2111.5 L447.7,2108.7 L449.8,2105.9 L451.8,2103.1 L453.9,2100.3 L455.9,2097.4 L457.9,2094.6 L459.9,2091.8 L461.9,2089.0 L463.9,2086.1 L465.9,2083.3 L467.8,2080.4 L469.8,2077.6 L471.8,2074.7 L473.7,2071.9 L475.6,2069.1 L477.5,2066.2 L479.5,2063.4 L481.4,2060.5 L483.3,2057.7 L485.1,2054.8 L487.0,2051.9 L488.9,2049.1 L490.8,2046.2 L492.6,2043.4 L494.5,2040.5 L496.3,2037.6 L498.2,2034.8 L500.0,2031.9 L501.9,2029.0 L503.7,2026.1 L505.5,2023.3 L507.3,2020.4 L509.2,2017.5 L511.0,2014.6 L512.8,2011.7 L514.6,2008.8 L516.4,2005.9 L518.2,2003.0 L520.0,2000.1 L521.8,1997.2 L523.6,1994.3 L525.4,1991.3 L527.2,1988.4 L529.0,1985.5 L530.8,1982.5 L532.6,1979.6 L534.4,1976.7 L536.2,1973.7 L537.9,1970.8 L539.7,1967.8 L541.5,1964.9 L543.3,1961.9 L545.1,1958.9 L546.9,1956.0 L548.7,1953.0 L550.5,1950.1 L552.2,1947.1 L554.0,1944.1 L555.8,1941.2 L557.6,1938.2 L559.4,1935.2 L561.2,1932.2 L563.0,1929.3 L564.7,1926.3 L566.5,1923.3 L568.3,1920.4 L570.1,1917.4 L571.9,1914.4 L573.7,1911.5 L575.5,1908.5 L577.3,1905.5 L579.1,1902.6 L580.9,1899.6 L582.7,1896.6 L584.5,1893.7 L586.3,1890.7 L588.1,1887.8 L589.9,1884.8 L591.7,1881.9 L593.5,1878.9 L595.3,1876.0 L597.1,1873.0 L598.9,1870.1 L600.7,1867.1 L602.6,1864.2 L604.4,1861.3 L606.2,1858.4 L608.0,1855.4 L609.9,1852.5 L611.7,1849.6 L613.5,1846.7 L615.4,1843.8 L617.2,1840.9 L619.1,1838.0 L620.9,1835.1 L622.8,1832.2 L624.6,1829.4 L626.5,1826.5 L628.4,1823.6 L630.3,1820.8 L632.2,1817.9 L634.1,1815.1 L636.0,1812.3 L637.9,1809.4 L639.9,1806.6 L641.8,1803.8 L643.8,1801.0 L645.7,1798.2 L647.7,1795.4 L649.7,1792.6 L651.7,1789.8 L653.7,1787.1 L655.8,1784.3 L657.8,1781.6 L659.9,1778.8 L662.0,1776.1 L664.1,1773.4 L666.2,1770.7 L668.4,1768.0 L670.5,1765.3 L672.7,1762.6 L674.8,1759.9 L677.0,1757.2 L679.2,1754.6 L681.4,1751.9 L683.6,1749.2 L685.8,1746.5 L688.0,1743.9 L690.2,1741.2 L692.4,1738.5 L694.6,1735.9 L696.8,1733.2 L699.0,1730.5 L701.2,1727.8 L703.4,1725.2 L705.5,1722.5 L707.7,1719.8 L709.8,1717.1 L712.0,1714.4 L714.1,1711.6 L716.2,1708.9 L718.3,1706.2 L720.4,1703.4 L722.5,1700.7 L724.5,1697.9 L726.5,1695.1 L728.5,1692.3 L730.5,1689.5 L732.4,1686.6 L734.3,1683.8 L736.2,1680.9 L738.1,1678.0 L739.9,1675.1 L741.7,1672.2 L743.4,1669.2 L745.2,1666.3 L746.8,1663.3 L748.5,1660.2 L750.1,1657.2" fill="none" stroke="#996633" stroke-width="4" stroke-linecap="round" stroke-linejoin="round"/>
<path d="M152.5,2260.8 L156.0,2260.8 L159.4,2260.8 L162.9,2260.8 L166.4,2260.8 L169.9,2260.8 L173.4,2260.8 L176.9,2260.8 L180.4,2260.8 L183.9,2260.8 L187.4,2260.8 L190.8,2260.8 L194.3,2260.8 L197.8,2260.5 L201.3,2260.1 L204.8,2259.8 L208.3,2259.3 L211.7,2258.9 L215.2,2258.4 L218.6,2257.8 L222.1,2257.2 L225.5,2256.6 L228.9,2255.9 L232.3,2255.1 L235.7,2254.3 L239.1,2253.5 L242.5,2252.6 L245.8,2251.7 L249.2,2250.7 L252.5,2249.7 L255.8,2248.6 L259.1,2247.5 L262.4,2246.3 L265.6,2245.1 L268.9,2243.9 L272.1,2242.6 L275.3,2241.3 L278.5,2239.9 L281.6,2238.4 L284.8,2237.0 L287.9,2235.5 L291.0,2233.9 L294.1,2232.3 L297.1,2230.7 L300.2,2229.0 L303.2,2227.3 L306.2,2225.5 L309.1,2223.8 L312.1,2221.9 L315.0,2220.1 L317.9,2218.2 L320.8,2216.2 L323.6,2214.3 L326.4,2212.2 L329.2,2210.2 L332.0,2208.1 L334.7,2206.0 L337.4,2203.9 L340.1,2201.7 L342.8,2199.5 L345.4,2197.2 L348.0,2195.0 L350.6,2192.7 L353.1,2190.3 L355.6,2188.0 L358.1,2185.6 L360.6,2183.2 L363.0,2180.7 L365.4,2178.2 L367.8,2175.7 L370.2,2173.2 L372.5,2170.7 L374.9,2168.1 L377.2,2165.5 L379.4,2162.9 L381.7,2160.3 L383.9,2157.6 L386.1,2154.9 L388.3,2152.2 L390.5,2149.5 L392.7,2146.8 L394.8,2144.0 L396.9,2141.2 L399.0,2138.5 L401.1,2135.6 L403.2,2132.8 L405.2,2130.0 L407.3,2127.2 L409.3,2124.3 L411.3,2121.4 L413.3,2118.5 L415.3,2115.7 L417.3,2112.8 L419.2,2109.8 L421.2,2106.9 L423.1,2104.0 L425.0,2101.1 L426.9,2098.1 L428.8,2095.2 L430.7,2092.2 L432.6,2089.2 L434.4,2086.3 L436.3,2083.3 L438.2,2080.3 L440.0,2077.4 L441.8,2074.4 L443.7,2071.4 L445.5,2068.4 L447.3,2065.5 L449.1,2062.5 L450.9,2059.5 L452.7,2056.5 L454.5,2053.6 L456.3,2050.6 L458.1,2047.6 L459.9,2044.6 L461.6,2041.6 L463.4,2038.6 L465.1,2035.6 L466.9,2032.6 L468.6,2029.6 L470.4,2026.6 L472.1,2023.6 L473.8,2020.6 L475.5,2017.6 L477.3,2014.6 L479.0,2011.6 L480.7,2008.6 L482.4,2005.6 L484.1,2002.5 L485.8,1999.5 L487.4,1996.5 L489.1,1993.5 L490.8,1990.4 L492.5,1987.4 L494.1,1984.3 L495.8,1981.3 L497.4,1978.2 L499.1,1975.2 L500.7,1972.1 L502.4,1969.1 L504.0,1966.0 L505.7,1963.0 L507.3,1959.9 L509.0,1956.9 L510.6,1953.8 L512.2,1950.7 L513.8,1947.7 L515.5,1944.6 L517.1,1941.5 L518.7,1938.5 L520.4,1935.4 L522.0,1932.3 L523.6,1929.2 L525.2,1926.2 L526.8,1923.1 L528.5,1920.0 L530.1,1917.0 L531.7,1913.9 L533.3,1910.8 L535.0,1907.8 L536.6,1904.7 L538.2,1901.6 L539.8,1898.5 L541.5,1895.5 L543.1,1892.4 L544.7,1889.3 L546.4,1886.3 L548.0,1883.2 L549.7,1880.2 L551.3,1877.1 L553.0,1874.0 L554.6,1871.0 L556.3,1867.9 L557.9,1864.9 L559.6,1861.8 L561.3,1858.8 L562.9,1855.7 L564.6,1852.7 L566.3,1849.7 L568.0,1846.6 L569.7,1843.6 L571.4,1840.6 L573.1,1837.5 L574.8,1834.5 L576.5,1831.5 L578.2,1828.5 L579.9,1825.5 L581.7,1822.5 L583.4,1819.5 L585.2,1816.5 L586.9,1813.5 L588.7,1810.5 L590.5,1807.5 L592.2,1804.5 L594.0,1801.6 L595.8,1798.6 L597.6,1795.6 L599.4,1792.7 L601.3,1789.7 L603.1,1786.8 L604.9,1783.8 L606.8,1780.9 L608.6,1778.0 L610.5,1775.0 L612.4,1772.1 L614.3,1769.2 L616.2,1766.3 L618.1,1763.4 L620.0,1760.5 L622.0,1757.6 L623.9,1754.8 L625.9,1751.9 L627.8,1749.0 L629.8,1746.2 L631.8,1743.3 L633.8,1740.5 L635.8,1737.7 L637.9,1734.8 L639.9,1732.0 L642.0,1729.2 L644.0,1726.4 L646.1,1723.6 L648.2,1720.9 L650.3,1718.1 L652.5,1715.3 L654.6,1712.6 L656.7,1709.8 L658.9,1707.1 L661.0,1704.3 L663.2,1701.6 L665.4,1698.9 L667.5,1696.1 L669.7,1693.4 L671.9,1690.6 L674.0,1687.9 L676.2,1685.1 L678.3,1682.4 L680.4,1679.6 L682.5,1676.9 L684.6,1674.1 L686.7,1671.3 L688.8,1668.5 L690.8,1665.7 L692.8,1662.9 L694.8,1660.1 L696.8,1657.2 L698.8,1654.4 L700.7,1651.5 L702.6,1648.6 L704.4,1645.7 L706.2,1642.8 L708.0,1639.8 L709.8,1636.9 L711.5,1633.9 L713.1,1630.8 L714.7,1627.8 L716.3,1624.7 L717.8,1621.6 L719.3,1618.5" fill="none" stroke="#ff0000" stroke-width="4" stroke-linecap="round" stroke-linejoin="round"/>
<rect x="152.5" y="1606.8" width="654.40" height="654.00" fill="none" stroke="#000" stroke-width="2.8"/>
<line x1="135.5" y1="2260.80" x2="152.5" y2="2260.80" stroke="#000" stroke-width="2.8"/>
<text transform="translate(123.00,2270.60) scale(0.915,1)" font-size="29.2" font-weight="bold" text-anchor="end" >0</text>
<line x1="135.5" y1="2195.40" x2="152.5" y2="2195.40" stroke="#000" stroke-width="2.8"/>
<text transform="translate(123.00,2205.20) scale(0.915,1)" font-size="29.2" font-weight="bold" text-anchor="end" >0.1</text>
<line x1="135.5" y1="2130.00" x2="152.5" y2="2130.00" stroke="#000" stroke-width="2.8"/>
<text transform="translate(123.00,2139.80) scale(0.915,1)" font-size="29.2" font-weight="bold" text-anchor="end" >0.2</text>
<line x1="135.5" y1="2064.60" x2="152.5" y2="2064.60" stroke="#000" stroke-width="2.8"/>
<text transform="translate(123.00,2074.40) scale(0.915,1)" font-size="29.2" font-weight="bold" text-anchor="end" >0.3</text>
<line x1="135.5" y1="1999.20" x2="152.5" y2="1999.20" stroke="#000" stroke-width="2.8"/>
<text transform="translate(123.00,2009.00) scale(0.915,1)" font-size="29.2" font-weight="bold" text-anchor="end" >0.4</text>
<line x1="135.5" y1="1933.80" x2="152.5" y2="1933.80" stroke="#000" stroke-width="2.8"/>
<text transform="translate(123.00,1943.60) scale(0.915,1)" font-size="29.2" font-weight="bold" text-anchor="end" >0.5</text>
<line x1="135.5" y1="1868.40" x2="152.5" y2="1868.40" stroke="#000" stroke-width="2.8"/>
<text transform="translate(123.00,1878.20) scale(0.915,1)" font-size="29.2" font-weight="bold" text-anchor="end" >0.6</text>
<line x1="135.5" y1="1803.00" x2="152.5" y2="1803.00" stroke="#000" stroke-width="2.8"/>
<text transform="translate(123.00,1812.80) scale(0.915,1)" font-size="29.2" font-weight="bold" text-anchor="end" >0.7</text>
<line x1="135.5" y1="1737.60" x2="152.5" y2="1737.60" stroke="#000" stroke-width="2.8"/>
<text transform="translate(123.00,1747.40) scale(0.915,1)" font-size="29.2" font-weight="bold" text-anchor="end" >0.8</text>
<line x1="135.5" y1="1672.20" x2="152.5" y2="1672.20" stroke="#000" stroke-width="2.8"/>
<text transform="translate(123.00,1682.00) scale(0.915,1)" font-size="29.2" font-weight="bold" text-anchor="end" >0.9</text>
<line x1="135.5" y1="1606.80" x2="152.5" y2="1606.80" stroke="#000" stroke-width="2.8"/>
<text transform="translate(123.00,1616.60) scale(0.915,1)" font-size="29.2" font-weight="bold" text-anchor="end" >1</text>
<line x1="152.50" y1="2260.8" x2="152.50" y2="2277.8" stroke="#000" stroke-width="2.8"/>
<text transform="translate(152.50,2312.80) scale(0.915,1)" font-size="29.2" font-weight="bold" text-anchor="middle" >0</text>
<line x1="217.94" y1="2260.8" x2="217.94" y2="2277.8" stroke="#000" stroke-width="2.8"/>
<text transform="translate(217.94,2312.80) scale(0.915,1)" font-size="29.2" font-weight="bold" text-anchor="middle" >1</text>
<line x1="283.38" y1="2260.8" x2="283.38" y2="2277.8" stroke="#000" stroke-width="2.8"/>
<text transform="translate(283.38,2312.80) scale(0.915,1)" font-size="29.2" font-weight="bold" text-anchor="middle" >2</text>
<line x1="348.82" y1="2260.8" x2="348.82" y2="2277.8" stroke="#000" stroke-width="2.8"/>
<text transform="translate(348.82,2312.80) scale(0.915,1)" font-size="29.2" font-weight="bold" text-anchor="middle" >3</text>
<line x1="414.26" y1="2260.8" x2="414.26" y2="2277.8" stroke="#000" stroke-width="2.8"/>
<text transform="translate(414.26,2312.80) scale(0.915,1)" font-size="29.2" font-weight="bold" text-anchor="middle" >4</text>
<line x1="479.70" y1="2260.8" x2="479.70" y2="2277.8" stroke="#000" stroke-width="2.8"/>
<text transform="translate(479.70,2312.80) scale(0.915,1)" font-size="29.2" font-weight="bold" text-anchor="middle" >5</text>
<line x1="545.14" y1="2260.8" x2="545.14" y2="2277.8" stroke="#000" stroke-width="2.8"/>
<text transform="translate(545.14,2312.80) scale(0.915,1)" font-size="29.2" font-weight="bold" text-anchor="middle" >6</text>
<line x1="610.58" y1="2260.8" x2="610.58" y2="2277.8" stroke="#000" stroke-width="2.8"/>
<text transform="translate(610.58,2312.80) scale(0.915,1)" font-size="29.2" font-weight="bold" text-anchor="middle" >7</text>
<line x1="676.02" y1="2260.8" x2="676.02" y2="2277.8" stroke="#000" stroke-width="2.8"/>
<text transform="translate(676.02,2312.80) scale(0.915,1)" font-size="29.2" font-weight="bold" text-anchor="middle" >8</text>
<line x1="741.46" y1="2260.8" x2="741.46" y2="2277.8" stroke="#000" stroke-width="2.8"/>
<text transform="translate(741.46,2312.80) scale(0.915,1)" font-size="29.2" font-weight="bold" text-anchor="middle" >9</text>
<line x1="806.90" y1="2260.8" x2="806.90" y2="2277.8" stroke="#000" stroke-width="2.8"/>
<text transform="translate(806.90,2312.80) scale(0.915,1)" font-size="29.2" font-weight="bold" text-anchor="middle" >10</text>
<text transform="translate(216.50,1686.10) scale(1.06,1)" font-size="22.6" font-weight="bold" text-anchor="start" >SAXJ1808.4-3658</text>
<line x1="212.6" y1="1709.50" x2="314.9" y2="1709.50" stroke="#006633" stroke-width="3.6" stroke-linecap="round"/>
<text transform="translate(326.30,1716.00) scale(1.005,1)" font-size="20.5" font-weight="bold" text-anchor="start" >Model 1</text>
<line x1="212.6" y1="1738.57" x2="314.9" y2="1738.57" stroke="#0000ff" stroke-width="3.6" stroke-linecap="round"/>
<text transform="translate(326.30,1745.07) scale(1.005,1)" font-size="20.5" font-weight="bold" text-anchor="start" >Model 2</text>
<line x1="212.6" y1="1767.64" x2="314.9" y2="1767.64" stroke="#996633" stroke-width="3.6" stroke-linecap="round"/>
<text transform="translate(326.30,1774.14) scale(1.005,1)" font-size="20.5" font-weight="bold" text-anchor="start" >Model 3</text>
<line x1="212.6" y1="1796.71" x2="314.9" y2="1796.71" stroke="#ff0000" stroke-width="3.6" stroke-linecap="round"/>
<text transform="translate(326.30,1803.21) scale(1.005,1)" font-size="20.5" font-weight="bold" text-anchor="start" >Model 4</text>
<polygon points="263.30,1816.30 265.71,1823.18 273.00,1823.35 267.20,1827.77 269.30,1834.75 263.30,1830.60 257.30,1834.75 259.40,1827.77 253.60,1823.35 260.89,1823.18" fill="#000"/>
<text transform="translate(326.30,1832.00) scale(1.03,1)" font-size="20.5" font-weight="bold" text-anchor="start" >observed</text>
<line x1="607.4" y1="1672.5" x2="738.3" y2="1672.5" stroke="#222" stroke-width="1.6"/>
<line x1="607.4" y1="1661.3" x2="607.4" y2="1683.7" stroke="#222" stroke-width="1.6"/>
<line x1="738.3" y1="1661.3" x2="738.3" y2="1683.7" stroke="#222" stroke-width="1.6"/>
<line x1="672.5" y1="1652.8" x2="672.5" y2="1692.2" stroke="#444" stroke-width="1.8"/>
<line x1="661.6" y1="1652.8" x2="683.8" y2="1652.8" stroke="#444" stroke-width="1.8"/>
<line x1="661.6" y1="1692.2" x2="683.8" y2="1692.2" stroke="#444" stroke-width="1.8"/>
<polygon points="672.50,1662.50 675.09,1669.94 682.96,1670.10 676.68,1674.86 678.97,1682.40 672.50,1677.90 666.03,1682.40 668.32,1674.86 662.04,1670.10 669.91,1669.94" fill="#000"/>
<text transform="translate(74.2,1971.5) rotate(-90)" font-size="23.6" font-weight="bold" text-anchor="start"><tspan font-style="italic">M</tspan> (<tspan font-style="italic">M</tspan></text>
<circle cx="72.9" cy="1910.2" r="5.6" fill="none" stroke="#333" stroke-width="1.2"/>
<text transform="translate(74.2,1901.9) rotate(-90)" font-size="23.6" font-weight="bold" text-anchor="start">)</text>
<text transform="translate(443.70,2353.50) scale(1.2,1)" font-size="33" font-style="italic" font-weight="normal" stroke="#fff" stroke-width="0.3">r</text>
<text transform="translate(465.70,2351.10) scale(1.1049499999999997,1)" font-size="21.6" font-weight="bold" text-anchor="start" >(km)</text>
<path d="M980.5,1937.9 L983.1,1937.9 L985.6,1937.9 L988.2,1937.8 L990.7,1937.8 L993.2,1937.7 L995.8,1937.6 L998.3,1937.5 L1000.8,1937.3 L1003.4,1937.1 L1005.9,1936.9 L1008.4,1936.7 L1010.9,1936.5 L1013.5,1936.3 L1016.0,1936.0 L1018.5,1935.7 L1021.0,1935.4 L1023.5,1935.1 L1026.0,1934.7 L1028.5,1934.4 L1031.0,1934.0 L1033.5,1933.6 L1036.0,1933.2 L1038.4,1932.7 L1040.9,1932.3 L1043.4,1931.8 L1045.9,1931.3 L1048.3,1930.8 L1050.8,1930.3 L1053.2,1929.7 L1055.7,1929.1 L1058.1,1928.6 L1060.6,1928.0 L1063.0,1927.4 L1065.5,1926.7 L1067.9,1926.1 L1070.3,1925.4 L1072.8,1924.7 L1075.2,1924.0 L1077.6,1923.3 L1080.0,1922.6 L1082.4,1921.8 L1084.8,1921.1 L1087.2,1920.3 L1089.6,1919.5 L1092.0,1918.7 L1094.4,1917.8 L1096.8,1917.0 L1099.1,1916.1 L1101.5,1915.3 L1103.9,1914.4 L1106.2,1913.5 L1108.6,1912.6 L1110.9,1911.6 L1113.3,1910.7 L1115.6,1909.7 L1118.0,1908.7 L1120.3,1907.7 L1122.6,1906.7 L1124.9,1905.7 L1127.3,1904.7 L1129.6,1903.7 L1131.9,1902.6 L1134.2,1901.5 L1136.5,1900.4 L1138.7,1899.3 L1141.0,1898.2 L1143.3,1897.1 L1145.6,1896.0 L1147.9,1894.8 L1150.1,1893.7 L1152.4,1892.5 L1154.6,1891.3 L1156.9,1890.1 L1159.1,1888.9 L1161.3,1887.7 L1163.6,1886.5 L1165.8,1885.2 L1168.0,1884.0 L1170.2,1882.7 L1172.4,1881.4 L1174.6,1880.2 L1176.8,1878.9 L1179.0,1877.6 L1181.2,1876.2 L1183.3,1874.9 L1185.5,1873.6 L1187.7,1872.2 L1189.8,1870.9 L1192.0,1869.5 L1194.1,1868.1 L1196.2,1866.7 L1198.4,1865.3 L1200.5,1863.9 L1202.6,1862.5 L1204.7,1861.1 L1206.8,1859.7 L1208.9,1858.2 L1211.0,1856.8 L1213.1,1855.3 L1215.2,1853.8 L1217.2,1852.4 L1219.3,1850.9 L1221.4,1849.4 L1223.4,1847.9 L1225.5,1846.4 L1227.5,1844.9 L1229.5,1843.4 L1231.5,1841.8 L1233.6,1840.3 L1235.6,1838.8 L1237.6,1837.2 L1239.6,1835.7 L1241.6,1834.1 L1243.6,1832.5 L1245.6,1831.0 L1247.5,1829.4 L1249.5,1827.8 L1251.5,1826.2 L1253.5,1824.6 L1255.4,1823.0 L1257.4,1821.4 L1259.3,1819.8 L1261.3,1818.2 L1263.2,1816.6 L1265.2,1815.0 L1267.1,1813.4 L1269.1,1811.8 L1271.0,1810.2 L1272.9,1808.5 L1274.9,1806.9 L1276.8,1805.3 L1278.7,1803.6 L1280.7,1802.0 L1282.6,1800.4 L1284.5,1798.7 L1286.5,1797.1 L1288.4,1795.5 L1290.3,1793.8 L1292.2,1792.2 L1294.1,1790.6 L1296.1,1788.9 L1298.0,1787.3 L1299.9,1785.6 L1301.8,1784.0 L1303.7,1782.4 L1305.7,1780.7 L1307.6,1779.1 L1309.5,1777.5 L1311.4,1775.8 L1313.4,1774.2 L1315.3,1772.6 L1317.2,1770.9 L1319.2,1769.3 L1321.1,1767.7 L1323.0,1766.1 L1325.0,1764.5 L1326.9,1762.9 L1328.8,1761.2 L1330.8,1759.6 L1332.7,1758.0 L1334.7,1756.4 L1336.6,1754.9 L1338.6,1753.3 L1340.6,1751.7 L1342.5,1750.1 L1344.5,1748.5 L1346.5,1747.0 L1348.4,1745.4 L1350.4,1743.8 L1352.4,1742.3 L1354.4,1740.8 L1356.4,1739.2 L1358.4,1737.7 L1360.4,1736.2 L1362.4,1734.6 L1364.5,1733.1 L1366.5,1731.6 L1368.5,1730.1 L1370.5,1728.7 L1372.6,1727.2 L1374.6,1725.7 L1376.7,1724.2 L1378.8,1722.8 L1380.8,1721.3 L1382.9,1719.9 L1385.0,1718.5 L1387.1,1717.1 L1389.2,1715.7 L1391.3,1714.3 L1393.4,1712.9 L1395.6,1711.5 L1397.7,1710.1 L1399.8,1708.8 L1402.0,1707.4 L1404.2,1706.1 L1406.3,1704.8 L1408.5,1703.5 L1410.7,1702.2 L1412.9,1700.9 L1415.1,1699.6 L1417.3,1698.4 L1419.6,1697.1 L1421.8,1695.9 L1424.1,1694.7 L1426.3,1693.5 L1428.6,1692.3 L1430.9,1691.1 L1433.2,1689.9 L1435.5,1688.8 L1437.8,1687.7 L1440.1,1686.6 L1442.4,1685.6 L1444.8,1684.6 L1447.1,1683.6 L1449.5,1682.6 L1451.8,1681.7 L1454.2,1680.8 L1456.6,1679.9 L1459.0,1679.1 L1461.4,1678.3 L1463.8,1677.6 L1466.2,1676.9 L1468.6,1676.3 L1471.0,1675.7 L1473.5,1675.1 L1475.9,1674.6 L1478.3,1674.1 L1480.8,1673.7 L1483.3,1673.4 L1485.7,1673.1 L1488.2,1672.9 L1490.7,1672.7 L1493.2,1672.6 L1495.6,1672.5 L1498.1,1672.4 L1500.6,1672.3 L1503.1,1672.3 L1505.6,1672.3 L1508.1,1672.2 L1510.6,1672.1 L1513.1,1672.0 L1515.6,1671.8 L1518.1,1671.6 L1520.5,1671.3 L1523.0,1670.9 L1525.5,1670.5 L1528.0,1670.0 L1530.4,1669.4 L1532.9,1668.7 L1535.3,1668.0 L1537.8,1667.2 L1540.2,1666.3 L1542.6,1665.4 L1545.0,1664.4 L1547.4,1663.4 L1549.8,1662.3 L1552.1,1661.2 L1554.5,1660.0 L1556.8,1658.8" fill="none" stroke="#ff0000" stroke-width="4.5" stroke-linecap="round" stroke-linejoin="round"/>
<path d="M980.5,2191.0 L982.8,2191.0 L985.2,2191.0 L987.5,2191.0 L989.9,2191.0 L992.2,2191.0 L994.6,2191.0 L996.9,2191.0 L999.3,2190.9 L1001.6,2190.9 L1004.0,2190.8 L1006.3,2190.8 L1008.7,2190.7 L1011.0,2190.6 L1013.3,2190.6 L1015.7,2190.5 L1018.0,2190.4 L1020.4,2190.3 L1022.7,2190.2 L1025.0,2190.0 L1027.4,2189.9 L1029.7,2189.8 L1032.0,2189.6 L1034.4,2189.5 L1036.7,2189.4 L1039.0,2189.2 L1041.4,2189.0 L1043.7,2188.9 L1046.0,2188.7 L1048.4,2188.5 L1050.7,2188.3 L1053.0,2188.1 L1055.4,2187.9 L1057.7,2187.7 L1060.0,2187.5 L1062.3,2187.2 L1064.7,2187.0 L1067.0,2186.8 L1069.3,2186.5 L1071.6,2186.3 L1074.0,2186.0 L1076.3,2185.7 L1078.6,2185.5 L1080.9,2185.2 L1083.2,2184.9 L1085.6,2184.6 L1087.9,2184.3 L1090.2,2184.0 L1092.5,2183.7 L1094.8,2183.4 L1097.1,2183.0 L1099.5,2182.7 L1101.8,2182.4 L1104.1,2182.0 L1106.4,2181.7 L1108.7,2181.3 L1111.0,2181.0 L1113.3,2180.6 L1115.6,2180.2 L1117.9,2179.8 L1120.2,2179.5 L1122.5,2179.1 L1124.8,2178.7 L1127.1,2178.3 L1129.4,2177.8 L1131.7,2177.4 L1134.0,2177.0 L1136.3,2176.6 L1138.6,2176.1 L1140.9,2175.7 L1143.2,2175.3 L1145.5,2174.8 L1147.8,2174.4 L1150.1,2173.9 L1152.4,2173.4 L1154.7,2172.9 L1157.0,2172.5 L1159.3,2172.0 L1161.6,2171.5 L1163.8,2171.0 L1166.1,2170.5 L1168.4,2170.0 L1170.7,2169.5 L1173.0,2169.0 L1175.3,2168.4 L1177.5,2167.9 L1179.8,2167.4 L1182.1,2166.8 L1184.4,2166.3 L1186.6,2165.7 L1188.9,2165.2 L1191.2,2164.6 L1193.5,2164.0 L1195.7,2163.5 L1198.0,2162.9 L1200.3,2162.3 L1202.5,2161.7 L1204.8,2161.1 L1207.1,2160.5 L1209.3,2159.9 L1211.6,2159.3 L1213.8,2158.7 L1216.1,2158.1 L1218.4,2157.5 L1220.6,2156.9 L1222.9,2156.2 L1225.1,2155.6 L1227.4,2154.9 L1229.6,2154.3 L1231.9,2153.7 L1234.1,2153.0 L1236.4,2152.3 L1238.6,2151.7 L1240.9,2151.0 L1243.1,2150.3 L1245.4,2149.6 L1247.6,2149.0 L1249.9,2148.3 L1252.1,2147.6 L1254.3,2146.9 L1256.6,2146.2 L1258.8,2145.5 L1261.0,2144.8 L1263.3,2144.1 L1265.5,2143.3 L1267.7,2142.6 L1270.0,2141.9 L1272.2,2141.2 L1274.4,2140.4 L1276.7,2139.7 L1278.9,2138.9 L1281.1,2138.2 L1283.3,2137.4 L1285.5,2136.7 L1287.8,2135.9 L1290.0,2135.1 L1292.2,2134.4 L1294.4,2133.6 L1296.6,2132.8 L1298.8,2132.0 L1301.0,2131.3 L1303.2,2130.5 L1305.5,2129.7 L1307.7,2128.9 L1309.9,2128.1 L1312.1,2127.3 L1314.3,2126.5 L1316.5,2125.7 L1318.7,2124.8 L1320.9,2124.0 L1323.1,2123.2 L1325.2,2122.4 L1327.4,2121.5 L1329.6,2120.7 L1331.8,2119.9 L1334.0,2119.0 L1336.2,2118.2 L1338.4,2117.3 L1340.6,2116.5 L1342.7,2115.6 L1344.9,2114.8 L1347.1,2113.9 L1349.3,2113.1 L1351.5,2112.2 L1353.6,2111.3 L1355.8,2110.4 L1358.0,2109.6 L1360.1,2108.7 L1362.3,2107.8 L1364.5,2106.9 L1366.6,2106.0 L1368.8,2105.1 L1371.0,2104.2 L1373.1,2103.3 L1375.3,2102.4 L1377.4,2101.5 L1379.6,2100.6 L1381.7,2099.7 L1383.9,2098.8 L1386.0,2097.9 L1388.2,2096.9 L1390.3,2096.0 L1392.5,2095.1 L1394.6,2094.2 L1396.7,2093.2 L1398.9,2092.3 L1401.0,2091.4 L1403.2,2090.4 L1405.3,2089.5 L1407.4,2088.5 L1409.6,2087.6 L1411.7,2086.6 L1413.8,2085.7 L1415.9,2084.7 L1418.1,2083.8 L1420.2,2082.8 L1422.3,2081.8 L1424.4,2080.9 L1426.5,2079.9 L1428.6,2078.9 L1430.8,2078.0 L1432.9,2077.0 L1435.0,2076.0 L1437.1,2075.0 L1439.2,2074.1 L1441.3,2073.1 L1443.4,2072.1 L1445.5,2071.1 L1447.6,2070.1 L1449.7,2069.1 L1451.8,2068.2 L1453.9,2067.2 L1456.0,2066.2 L1458.2,2065.2 L1460.3,2064.2 L1462.4,2063.2 L1464.5,2062.2 L1466.6,2061.2 L1468.7,2060.2 L1470.8,2059.2 L1472.9,2058.2 L1475.0,2057.2 L1477.1,2056.2 L1479.2,2055.2 L1481.3,2054.2 L1483.4,2053.2 L1485.5,2052.2 L1487.6,2051.2 L1489.8,2050.2 L1491.9,2049.2 L1494.0,2048.1 L1496.1,2047.1 L1498.2,2046.1 L1500.3,2045.0 L1502.5,2043.9 L1504.6,2042.9 L1506.7,2041.8 L1508.8,2040.6 L1511.0,2039.5 L1513.1,2038.4 L1515.2,2037.3 L1517.4,2036.2 L1519.5,2035.1 L1521.7,2034.0 L1523.8,2032.9 L1526.0,2031.9 L1528.1,2030.9 L1530.3,2030.0 L1532.5,2029.1 L1534.6,2028.3 L1536.8,2027.5 L1539.0,2026.8 L1541.2,2026.2 L1543.4,2025.7 L1545.6,2025.2 L1547.8,2024.8 L1550.1,2024.6 L1552.3,2024.4 L1554.5,2024.3 L1556.8,2024.4" fill="none" stroke="#0000ff" stroke-width="4.5" stroke-linecap="round" stroke-linejoin="round"/>
<rect x="980.5" y="1605.1" width="665.40" height="665.40" fill="none" stroke="#000" stroke-width="3"/>
<line x1="963.5" y1="2270.50" x2="980.5" y2="2270.50" stroke="#000" stroke-width="3"/>
<text transform="translate(950.70,2278.70) scale(0.93,1)" font-size="24" font-weight="bold" text-anchor="end" >0.4</text>
<line x1="963.5" y1="2215.05" x2="980.5" y2="2215.05" stroke="#000" stroke-width="3"/>
<text transform="translate(950.70,2223.25) scale(0.93,1)" font-size="24" font-weight="bold" text-anchor="end" >0.5</text>
<line x1="963.5" y1="2159.60" x2="980.5" y2="2159.60" stroke="#000" stroke-width="3"/>
<text transform="translate(950.70,2167.80) scale(0.93,1)" font-size="24" font-weight="bold" text-anchor="end" >0.6</text>
<line x1="963.5" y1="2104.15" x2="980.5" y2="2104.15" stroke="#000" stroke-width="3"/>
<text transform="translate(950.70,2112.35) scale(0.93,1)" font-size="24" font-weight="bold" text-anchor="end" >0.7</text>
<line x1="963.5" y1="2048.70" x2="980.5" y2="2048.70" stroke="#000" stroke-width="3"/>
<text transform="translate(950.70,2056.90) scale(0.93,1)" font-size="24" font-weight="bold" text-anchor="end" >0.8</text>
<line x1="963.5" y1="1993.25" x2="980.5" y2="1993.25" stroke="#000" stroke-width="3"/>
<text transform="translate(950.70,2001.45) scale(0.93,1)" font-size="24" font-weight="bold" text-anchor="end" >0.9</text>
<line x1="963.5" y1="1937.80" x2="980.5" y2="1937.80" stroke="#000" stroke-width="3"/>
<text transform="translate(950.70,1946.00) scale(0.93,1)" font-size="24" font-weight="bold" text-anchor="end" >1</text>
<line x1="963.5" y1="1882.35" x2="980.5" y2="1882.35" stroke="#000" stroke-width="3"/>
<text transform="translate(950.70,1890.55) scale(0.93,1)" font-size="24" font-weight="bold" text-anchor="end" >1.1</text>
<line x1="963.5" y1="1826.90" x2="980.5" y2="1826.90" stroke="#000" stroke-width="3"/>
<text transform="translate(950.70,1835.10) scale(0.93,1)" font-size="24" font-weight="bold" text-anchor="end" >1.2</text>
<line x1="963.5" y1="1771.45" x2="980.5" y2="1771.45" stroke="#000" stroke-width="3"/>
<text transform="translate(950.70,1779.65) scale(0.93,1)" font-size="24" font-weight="bold" text-anchor="end" >1.3</text>
<line x1="963.5" y1="1716.00" x2="980.5" y2="1716.00" stroke="#000" stroke-width="3"/>
<text transform="translate(950.70,1724.20) scale(0.93,1)" font-size="24" font-weight="bold" text-anchor="end" >1.4</text>
<line x1="963.5" y1="1660.55" x2="980.5" y2="1660.55" stroke="#000" stroke-width="3"/>
<text transform="translate(950.70,1668.75) scale(0.93,1)" font-size="24" font-weight="bold" text-anchor="end" >1.5</text>
<line x1="963.5" y1="1605.10" x2="980.5" y2="1605.10" stroke="#000" stroke-width="3"/>
<text transform="translate(950.70,1613.30) scale(0.93,1)" font-size="24" font-weight="bold" text-anchor="end" >1.6</text>
<line x1="980.50" y1="2270.5" x2="980.50" y2="2287.5" stroke="#000" stroke-width="3"/>
<text transform="translate(980.50,2319.50) scale(0.93,1)" font-size="24" font-weight="bold" text-anchor="middle" >0</text>
<line x1="1047.04" y1="2270.5" x2="1047.04" y2="2287.5" stroke="#000" stroke-width="3"/>
<text transform="translate(1047.04,2319.50) scale(0.93,1)" font-size="24" font-weight="bold" text-anchor="middle" >1</text>
<line x1="1113.58" y1="2270.5" x2="1113.58" y2="2287.5" stroke="#000" stroke-width="3"/>
<text transform="translate(1113.58,2319.50) scale(0.93,1)" font-size="24" font-weight="bold" text-anchor="middle" >2</text>
<line x1="1180.12" y1="2270.5" x2="1180.12" y2="2287.5" stroke="#000" stroke-width="3"/>
<text transform="translate(1180.12,2319.50) scale(0.93,1)" font-size="24" font-weight="bold" text-anchor="middle" >3</text>
<line x1="1246.66" y1="2270.5" x2="1246.66" y2="2287.5" stroke="#000" stroke-width="3"/>
<text transform="translate(1246.66,2319.50) scale(0.93,1)" font-size="24" font-weight="bold" text-anchor="middle" >4</text>
<line x1="1313.20" y1="2270.5" x2="1313.20" y2="2287.5" stroke="#000" stroke-width="3"/>
<text transform="translate(1313.20,2319.50) scale(0.93,1)" font-size="24" font-weight="bold" text-anchor="middle" >5</text>
<line x1="1379.74" y1="2270.5" x2="1379.74" y2="2287.5" stroke="#000" stroke-width="3"/>
<text transform="translate(1379.74,2319.50) scale(0.93,1)" font-size="24" font-weight="bold" text-anchor="middle" >6</text>
<line x1="1446.28" y1="2270.5" x2="1446.28" y2="2287.5" stroke="#000" stroke-width="3"/>
<text transform="translate(1446.28,2319.50) scale(0.93,1)" font-size="24" font-weight="bold" text-anchor="middle" >7</text>
<line x1="1512.82" y1="2270.5" x2="1512.82" y2="2287.5" stroke="#000" stroke-width="3"/>
<text transform="translate(1512.82,2319.50) scale(0.93,1)" font-size="24" font-weight="bold" text-anchor="middle" >8</text>
<line x1="1579.36" y1="2270.5" x2="1579.36" y2="2287.5" stroke="#000" stroke-width="3"/>
<text transform="translate(1579.36,2319.50) scale(0.93,1)" font-size="24" font-weight="bold" text-anchor="middle" >9</text>
<line x1="1645.90" y1="2270.5" x2="1645.90" y2="2287.5" stroke="#000" stroke-width="3"/>
<text transform="translate(1645.90,2319.50) scale(0.93,1)" font-size="24" font-weight="bold" text-anchor="middle" >10</text>
<rect x="1042.7" y="1629.1" width="179" height="112.3" fill="#fff" stroke="#333" stroke-width="1.5"/>
<line x1="1054.5" y1="1681" x2="1158.5" y2="1681" stroke="#ff0000" stroke-width="4.2" stroke-linecap="round"/>
<line x1="1054.5" y1="1715.9" x2="1158.5" y2="1715.9" stroke="#0000ff" stroke-width="4.2" stroke-linecap="round"/>
<text x="1169.8" y="1689" font-size="22" font-weight="normal">e<tspan font-size="17.5" font-weight="bold" dy="-6" dx="1.5">-2</tspan><tspan font-size="18" font-weight="normal" dx="1">λ</tspan></text>
<text x="1169.5" y="1723.6" font-size="22" font-weight="bold">e<tspan font-size="18.5" font-weight="normal" dy="-6.5" dx="1">2</tspan><tspan font-size="18.5" font-weight="normal" dx="0.6">ν</tspan></text>
<text transform="translate(907.00,1938.30) rotate(-90) scale(1.02,1.0)" font-size="27.4" font-weight="bold" text-anchor="middle" >Metric Potential</text>
<text transform="translate(1275.60,2352.30) scale(1.2,1)" font-size="33" font-style="italic" font-weight="normal" stroke="#fff" stroke-width="0.3">r</text>
<text transform="translate(1297.70,2350.80) scale(1.026822222222222,1)" font-size="26.4" font-weight="bold" text-anchor="start" >(km)</text>
</svg></body></html>
